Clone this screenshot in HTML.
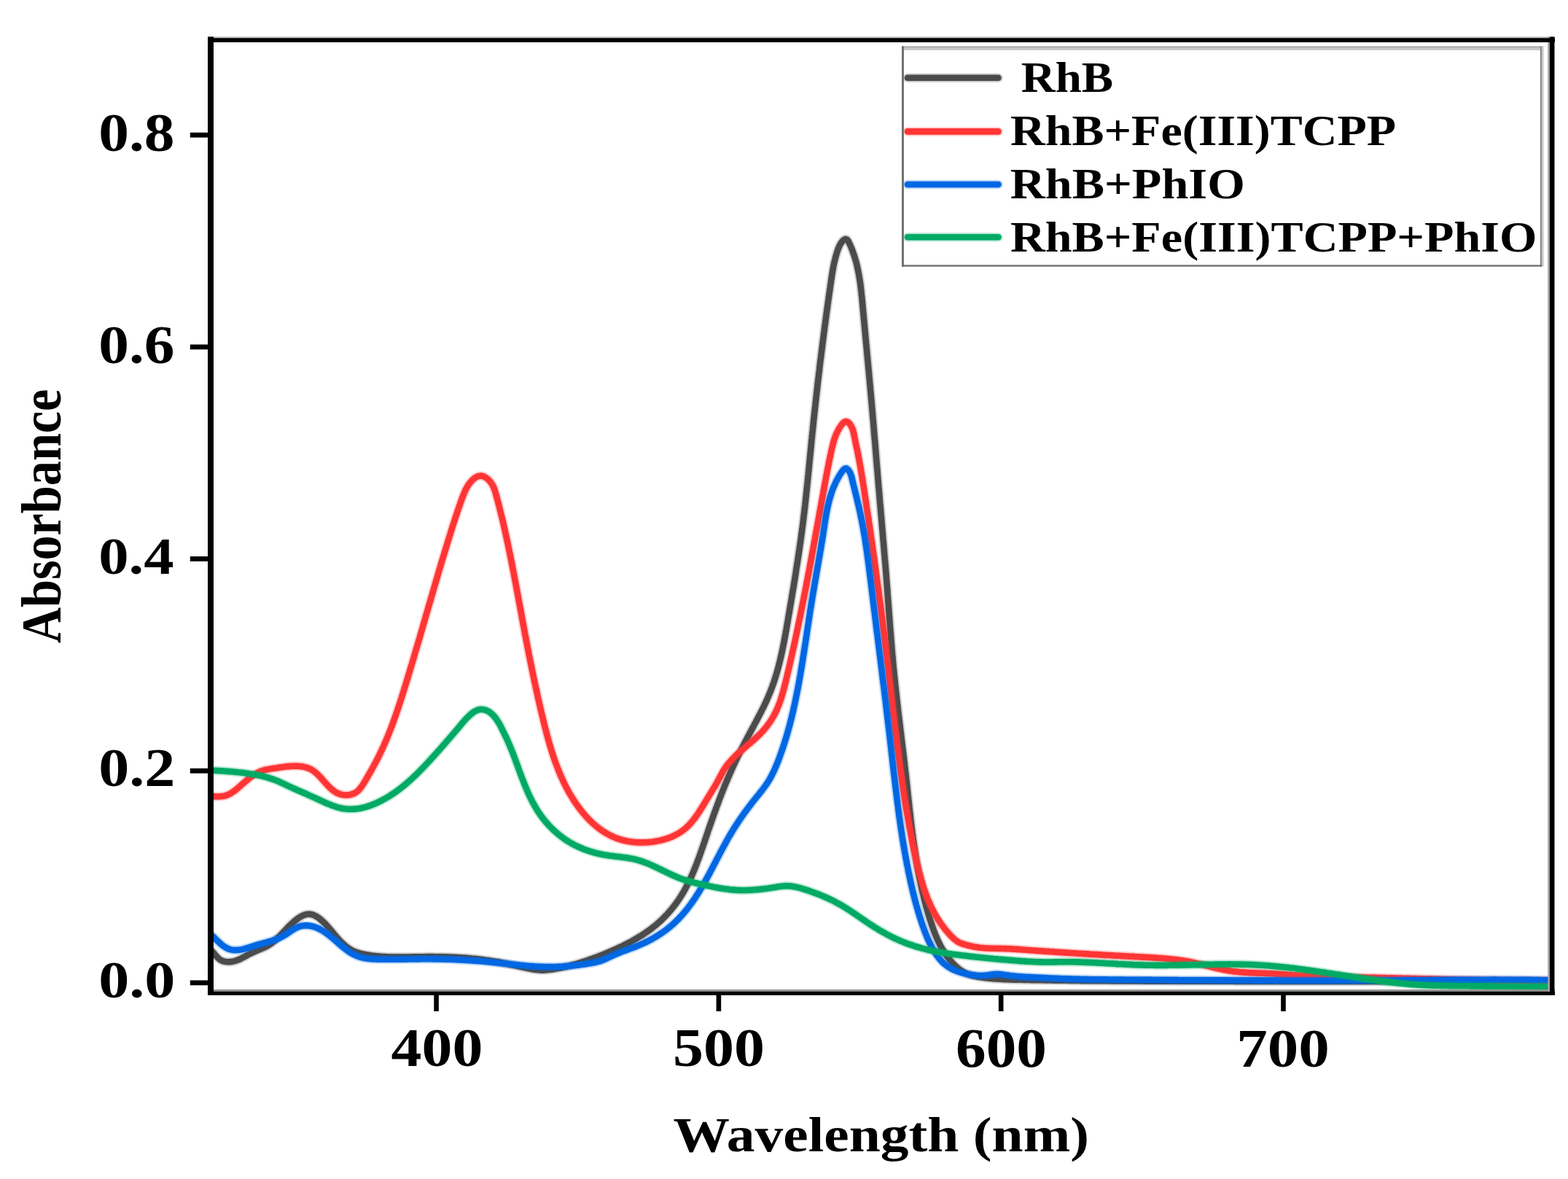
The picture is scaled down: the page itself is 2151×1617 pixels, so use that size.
<!DOCTYPE html>
<html><head><meta charset="utf-8"><title>Absorbance spectra</title>
<style>html,body{margin:0;padding:0;background:#fff;}svg{display:block;}</style>
</head><body>
<svg width="2151" height="1617" viewBox="0 0 2151 1617"><rect x="0" y="0" width="2151" height="1617" fill="#fff"/><defs><clipPath id="pc"><rect x="289" y="54" width="1839" height="1307"/></clipPath></defs><defs><path id="c_gray" d="M280.0,1300.0 282.5,1300.2 284.9,1300.8 287.2,1301.9 289.2,1303.3 291.1,1304.9 292.8,1306.8 294.5,1308.6 296.1,1310.6 297.7,1312.4 299.5,1314.2 301.4,1315.8 303.5,1317.1 305.8,1318.1 308.3,1318.7 310.7,1319.1 313.2,1319.2 315.7,1319.1 318.2,1318.9 320.7,1318.4 323.1,1317.7 325.4,1316.9 327.8,1316.0 330.0,1315.0 332.3,1313.8 334.5,1312.7 336.7,1311.5 338.9,1310.2 341.1,1309.0 343.3,1307.9 345.5,1306.7 347.8,1305.7 350.1,1304.7 352.4,1303.7 354.7,1302.8 357.0,1301.8 359.3,1300.9 361.6,1299.9 363.9,1298.8 366.1,1297.7 368.3,1296.4 370.4,1295.1 372.4,1293.7 374.4,1292.1 376.4,1290.6 378.2,1288.9 380.1,1287.2 381.9,1285.5 383.7,1283.7 385.4,1282.0 387.1,1280.1 388.9,1278.3 390.6,1276.5 392.3,1274.7 394.0,1272.9 395.8,1271.1 397.5,1269.3 399.3,1267.6 401.2,1265.9 403.0,1264.2 404.9,1262.6 406.9,1261.0 408.9,1259.5 411.0,1258.1 413.1,1256.9 415.4,1255.7 417.7,1254.8 420.1,1254.1 422.6,1253.8 425.1,1253.8 427.5,1254.2 429.9,1254.9 432.2,1255.9 434.4,1257.1 436.5,1258.5 438.5,1260.0 440.4,1261.6 442.3,1263.2 444.1,1265.0 445.9,1266.7 447.6,1268.6 449.3,1270.4 450.9,1272.3 452.6,1274.2 454.2,1276.1 455.8,1278.0 457.4,1279.9 459.0,1281.9 460.6,1283.8 462.2,1285.7 463.9,1287.5 465.6,1289.4 467.3,1291.2 469.1,1293.0 470.9,1294.7 472.7,1296.4 474.7,1298.0 476.6,1299.5 478.7,1300.9 480.8,1302.3 483.0,1303.5 485.2,1304.6 487.5,1305.5 489.9,1306.3 492.3,1307.1 494.7,1307.7 497.1,1308.3 499.6,1308.8 502.0,1309.3 504.5,1309.7 507.0,1310.1 509.5,1310.5 511.9,1310.8 514.4,1311.1 516.9,1311.4 519.4,1311.6 521.9,1311.8 524.4,1312.0 526.9,1312.1 529.4,1312.3 531.9,1312.4 534.4,1312.5 536.9,1312.5 539.4,1312.6 541.9,1312.6 544.4,1312.6 546.9,1312.6 549.4,1312.6 551.9,1312.6 554.4,1312.6 556.9,1312.5 559.4,1312.5 561.9,1312.5 564.4,1312.4 566.9,1312.4 569.4,1312.3 571.9,1312.3 574.4,1312.2 576.9,1312.2 579.4,1312.2 581.9,1312.2 584.4,1312.1 586.9,1312.1 589.4,1312.1 591.9,1312.1 594.4,1312.1 596.9,1312.2 599.4,1312.2 601.9,1312.2 604.4,1312.2 606.9,1312.3 609.4,1312.4 611.9,1312.4 614.4,1312.5 616.9,1312.6 619.4,1312.7 621.9,1312.8 624.4,1312.9 626.9,1313.0 629.4,1313.2 631.9,1313.3 634.4,1313.5 636.9,1313.6 639.4,1313.8 641.9,1314.0 644.4,1314.2 646.9,1314.5 649.3,1314.7 651.8,1314.9 654.3,1315.2 656.8,1315.5 659.3,1315.8 661.8,1316.1 664.3,1316.4 666.7,1316.8 669.2,1317.1 671.7,1317.5 674.2,1317.9 676.6,1318.3 679.1,1318.7 681.5,1319.1 684.0,1319.5 686.5,1320.0 688.9,1320.5 691.4,1321.0 693.8,1321.5 696.3,1322.0 698.7,1322.5 701.2,1323.0 703.6,1323.5 706.1,1324.1 708.5,1324.6 710.9,1325.2 713.4,1325.7 715.8,1326.3 718.3,1326.8 720.7,1327.4 723.1,1327.9 725.6,1328.4 728.1,1328.9 730.5,1329.3 733.0,1329.7 735.5,1330.0 738.0,1330.3 740.4,1330.5 742.9,1330.6 745.4,1330.6 747.9,1330.5 750.4,1330.3 752.9,1330.1 755.4,1329.8 757.9,1329.4 760.4,1329.0 762.8,1328.6 765.3,1328.1 767.7,1327.7 770.2,1327.2 772.6,1326.6 775.1,1326.1 777.5,1325.5 779.9,1324.9 782.4,1324.3 784.8,1323.6 787.2,1322.9 789.6,1322.3 792.0,1321.6 794.4,1320.8 796.8,1320.1 799.2,1319.3 801.5,1318.6 803.9,1317.8 806.3,1317.0 808.6,1316.1 811.0,1315.3 813.4,1314.5 815.7,1313.6 818.1,1312.8 820.4,1311.9 822.7,1311.0 825.1,1310.1 827.4,1309.2 829.7,1308.2 832.0,1307.3 834.3,1306.3 836.6,1305.3 838.9,1304.3 841.2,1303.3 843.5,1302.3 845.8,1301.3 848.0,1300.2 850.3,1299.1 852.6,1298.1 854.8,1297.0 857.0,1295.8 859.3,1294.7 861.5,1293.6 863.7,1292.4 865.9,1291.2 868.1,1290.0 870.3,1288.8 872.4,1287.5 874.6,1286.2 876.7,1284.9 878.9,1283.6 881.0,1282.3 883.1,1280.9 885.2,1279.5 887.2,1278.1 889.3,1276.7 891.3,1275.2 893.3,1273.7 895.3,1272.2 897.2,1270.7 899.2,1269.1 901.1,1267.5 903.0,1265.8 904.9,1264.2 906.7,1262.5 908.5,1260.8 910.3,1259.0 912.0,1257.2 913.8,1255.4 915.5,1253.6 917.2,1251.7 918.8,1249.8 920.4,1247.9 922.0,1246.0 923.6,1244.1 925.1,1242.1 926.6,1240.1 928.1,1238.1 929.5,1236.0 931.0,1234.0 932.3,1231.9 933.7,1229.8 935.0,1227.7 936.3,1225.5 937.6,1223.4 938.8,1221.2 940.1,1219.0 941.2,1216.8 942.4,1214.6 943.5,1212.4 944.7,1210.1 945.7,1207.9 946.8,1205.6 947.9,1203.3 948.9,1201.1 949.9,1198.8 950.9,1196.5 951.9,1194.2 952.8,1191.9 953.7,1189.5 954.7,1187.2 955.6,1184.9 956.5,1182.5 957.3,1180.2 958.2,1177.9 959.1,1175.5 959.9,1173.2 960.8,1170.8 961.6,1168.4 962.4,1166.1 963.2,1163.7 964.1,1161.4 964.9,1159.0 965.7,1156.6 966.5,1154.3 967.3,1151.9 968.1,1149.5 968.9,1147.1 969.7,1144.8 970.5,1142.4 971.3,1140.0 972.1,1137.7 972.9,1135.3 973.7,1132.9 974.6,1130.6 975.4,1128.2 976.2,1125.9 977.0,1123.5 977.9,1121.1 978.7,1118.8 979.5,1116.4 980.4,1114.1 981.2,1111.7 982.1,1109.4 982.9,1107.0 983.8,1104.7 984.7,1102.3 985.6,1100.0 986.4,1097.6 987.3,1095.3 988.2,1093.0 989.1,1090.6 990.0,1088.3 990.9,1086.0 991.8,1083.6 992.8,1081.3 993.7,1079.0 994.6,1076.7 995.6,1074.4 996.6,1072.1 997.5,1069.8 998.5,1067.4 999.5,1065.1 1000.5,1062.9 1001.5,1060.6 1002.5,1058.3 1003.5,1056.0 1004.5,1053.7 1005.6,1051.4 1006.6,1049.2 1007.7,1046.9 1008.7,1044.6 1009.8,1042.4 1010.9,1040.1 1012.0,1037.9 1013.1,1035.6 1014.2,1033.4 1015.3,1031.1 1016.4,1028.9 1017.6,1026.7 1018.7,1024.5 1019.8,1022.2 1021.0,1020.0 1022.1,1017.8 1023.3,1015.6 1024.5,1013.4 1025.6,1011.1 1026.8,1008.9 1028.0,1006.7 1029.1,1004.5 1030.3,1002.3 1031.5,1000.1 1032.7,997.9 1033.9,995.7 1035.0,993.5 1036.2,991.3 1037.4,989.1 1038.6,986.9 1039.7,984.6 1040.9,982.4 1042.0,980.2 1043.2,978.0 1044.3,975.8 1045.4,973.5 1046.6,971.3 1047.7,969.0 1048.8,966.8 1049.8,964.5 1050.9,962.3 1051.9,960.0 1052.9,957.7 1053.9,955.4 1054.9,953.1 1055.9,950.8 1056.8,948.5 1057.7,946.1 1058.6,943.8 1059.5,941.5 1060.3,939.1 1061.2,936.7 1062.0,934.4 1062.7,932.0 1063.5,929.6 1064.2,927.2 1065.0,924.8 1065.7,922.4 1066.4,920.0 1067.0,917.6 1067.7,915.2 1068.3,912.8 1068.9,910.4 1069.5,907.9 1070.1,905.5 1070.7,903.1 1071.3,900.6 1071.8,898.2 1072.4,895.8 1072.9,893.3 1073.4,890.9 1073.9,888.4 1074.4,886.0 1074.9,883.5 1075.4,881.1 1075.9,878.6 1076.3,876.1 1076.8,873.7 1077.2,871.2 1077.7,868.8 1078.1,866.3 1078.6,863.8 1079.0,861.4 1079.4,858.9 1079.8,856.4 1080.3,854.0 1080.7,851.5 1081.1,849.1 1081.5,846.6 1081.9,844.1 1082.4,841.7 1082.8,839.2 1083.2,836.7 1083.6,834.3 1084.0,831.8 1084.4,829.3 1084.9,826.9 1085.3,824.4 1085.7,821.9 1086.1,819.5 1086.5,817.0 1086.9,814.5 1087.3,812.1 1087.7,809.6 1088.2,807.1 1088.6,804.7 1089.0,802.2 1089.4,799.7 1089.8,797.2 1090.2,794.8 1090.6,792.3 1091.0,789.8 1091.4,787.4 1091.8,784.9 1092.1,782.4 1092.5,780.0 1092.9,777.5 1093.3,775.0 1093.7,772.5 1094.1,770.1 1094.4,767.6 1094.8,765.1 1095.2,762.7 1095.6,760.2 1095.9,757.7 1096.3,755.2 1096.7,752.8 1097.0,750.3 1097.4,747.8 1097.7,745.3 1098.1,742.9 1098.4,740.4 1098.8,737.9 1099.1,735.4 1099.4,732.9 1099.8,730.5 1100.1,728.0 1100.4,725.5 1100.8,723.0 1101.1,720.5 1101.4,718.1 1101.7,715.6 1102.0,713.1 1102.3,710.6 1102.6,708.1 1102.9,705.7 1103.2,703.2 1103.5,700.7 1103.8,698.2 1104.1,695.7 1104.4,693.2 1104.6,690.7 1104.9,688.3 1105.2,685.8 1105.4,683.3 1105.7,680.8 1106.0,678.3 1106.2,675.8 1106.5,673.3 1106.8,670.8 1107.0,668.4 1107.3,665.9 1107.5,663.4 1107.8,660.9 1108.0,658.4 1108.3,655.9 1108.5,653.4 1108.8,650.9 1109.0,648.5 1109.3,646.0 1109.5,643.5 1109.8,641.0 1110.0,638.5 1110.3,636.0 1110.5,633.5 1110.7,631.0 1111.0,628.5 1111.2,626.0 1111.5,623.6 1111.7,621.1 1112.0,618.6 1112.2,616.1 1112.5,613.6 1112.7,611.1 1112.9,608.6 1113.2,606.1 1113.4,603.6 1113.7,601.2 1113.9,598.7 1114.2,596.2 1114.4,593.7 1114.7,591.2 1115.0,588.7 1115.2,586.2 1115.5,583.7 1115.7,581.3 1116.0,578.8 1116.2,576.3 1116.5,573.8 1116.8,571.3 1117.0,568.8 1117.3,566.3 1117.6,563.8 1117.8,561.4 1118.1,558.9 1118.4,556.4 1118.6,553.9 1118.9,551.4 1119.2,548.9 1119.5,546.4 1119.7,544.0 1120.0,541.5 1120.3,539.0 1120.6,536.5 1120.9,534.0 1121.2,531.5 1121.4,529.0 1121.7,526.6 1122.0,524.1 1122.3,521.6 1122.6,519.1 1122.9,516.6 1123.2,514.1 1123.5,511.6 1123.8,509.2 1124.1,506.7 1124.3,504.2 1124.6,501.7 1124.9,499.2 1125.2,496.7 1125.5,494.3 1125.9,491.8 1126.2,489.3 1126.5,486.8 1126.8,484.3 1127.1,481.9 1127.4,479.4 1127.7,476.9 1128.0,474.4 1128.3,471.9 1128.6,469.4 1129.0,467.0 1129.3,464.5 1129.6,462.0 1129.9,459.5 1130.2,457.0 1130.6,454.6 1130.9,452.1 1131.2,449.6 1131.5,447.1 1131.9,444.6 1132.2,442.2 1132.5,439.7 1132.8,437.2 1133.2,434.7 1133.5,432.2 1133.8,429.8 1134.2,427.3 1134.5,424.8 1134.9,422.3 1135.2,419.9 1135.5,417.4 1135.9,414.9 1136.2,412.4 1136.6,409.9 1136.9,407.5 1137.3,405.0 1137.6,402.5 1138.0,400.0 1138.3,397.6 1138.7,395.1 1139.0,392.6 1139.4,390.1 1139.8,387.7 1140.1,385.2 1140.5,382.7 1140.8,380.2 1141.2,377.8 1141.6,375.3 1142.0,372.8 1142.4,370.4 1142.9,367.9 1143.3,365.4 1143.8,363.0 1144.3,360.5 1144.9,358.1 1145.5,355.7 1146.1,353.2 1146.8,350.8 1147.5,348.4 1148.2,346.0 1149.0,343.7 1149.8,341.3 1150.8,339.0 1151.8,336.7 1153.0,334.5 1154.4,332.4 1155.9,330.5 1157.8,328.8 1160.0,327.8 1162.2,328.8 1163.7,330.8 1164.8,333.1 1165.9,335.3 1166.9,337.6 1167.9,339.9 1168.8,342.2 1169.7,344.6 1170.5,346.9 1171.4,349.3 1172.1,351.7 1172.9,354.1 1173.6,356.5 1174.3,358.9 1174.9,361.3 1175.5,363.7 1176.1,366.1 1176.6,368.6 1177.1,371.0 1177.6,373.5 1178.1,375.9 1178.5,378.4 1178.9,380.9 1179.3,383.3 1179.7,385.8 1180.1,388.3 1180.4,390.8 1180.7,393.2 1181.0,395.7 1181.3,398.2 1181.6,400.7 1181.8,403.2 1182.1,405.7 1182.4,408.2 1182.6,410.7 1182.8,413.1 1183.1,415.6 1183.3,418.1 1183.5,420.6 1183.7,423.1 1184.0,425.6 1184.2,428.1 1184.4,430.6 1184.7,433.1 1184.9,435.6 1185.1,438.1 1185.4,440.5 1185.6,443.0 1185.8,445.5 1186.1,448.0 1186.3,450.5 1186.5,453.0 1186.7,455.5 1187.0,458.0 1187.2,460.5 1187.4,463.0 1187.7,465.4 1187.9,467.9 1188.1,470.4 1188.4,472.9 1188.6,475.4 1188.8,477.9 1189.1,480.4 1189.3,482.9 1189.5,485.4 1189.8,487.9 1190.0,490.3 1190.2,492.8 1190.5,495.3 1190.7,497.8 1190.9,500.3 1191.2,502.8 1191.4,505.3 1191.6,507.8 1191.9,510.3 1192.1,512.8 1192.3,515.3 1192.5,517.7 1192.8,520.2 1193.0,522.7 1193.2,525.2 1193.5,527.7 1193.7,530.2 1193.9,532.7 1194.1,535.2 1194.4,537.7 1194.6,540.2 1194.8,542.7 1195.0,545.1 1195.2,547.6 1195.5,550.1 1195.7,552.6 1195.9,555.1 1196.1,557.6 1196.3,560.1 1196.6,562.6 1196.8,565.1 1197.0,567.6 1197.2,570.1 1197.4,572.6 1197.6,575.0 1197.9,577.5 1198.1,580.0 1198.3,582.5 1198.5,585.0 1198.7,587.5 1198.9,590.0 1199.1,592.5 1199.3,595.0 1199.5,597.5 1199.7,600.0 1199.9,602.5 1200.2,605.0 1200.4,607.4 1200.6,609.9 1200.8,612.4 1201.0,614.9 1201.2,617.4 1201.4,619.9 1201.6,622.4 1201.8,624.9 1202.0,627.4 1202.2,629.9 1202.4,632.4 1202.6,634.9 1202.8,637.4 1203.0,639.8 1203.3,642.3 1203.5,644.8 1203.7,647.3 1203.9,649.8 1204.1,652.3 1204.3,654.8 1204.5,657.3 1204.7,659.8 1204.9,662.3 1205.1,664.8 1205.3,667.3 1205.5,669.8 1205.8,672.3 1206.0,674.7 1206.2,677.2 1206.4,679.7 1206.6,682.2 1206.8,684.7 1207.0,687.2 1207.2,689.7 1207.5,692.2 1207.7,694.7 1207.9,697.2 1208.1,699.7 1208.3,702.2 1208.5,704.6 1208.7,707.1 1209.0,709.6 1209.2,712.1 1209.4,714.6 1209.6,717.1 1209.8,719.6 1210.0,722.1 1210.2,724.6 1210.5,727.1 1210.7,729.6 1210.9,732.1 1211.1,734.6 1211.3,737.0 1211.5,739.5 1211.7,742.0 1212.0,744.5 1212.2,747.0 1212.4,749.5 1212.6,752.0 1212.8,754.5 1213.0,757.0 1213.2,759.5 1213.4,762.0 1213.6,764.5 1213.8,766.9 1214.1,769.4 1214.3,771.9 1214.5,774.4 1214.7,776.9 1214.9,779.4 1215.1,781.9 1215.3,784.4 1215.5,786.9 1215.7,789.4 1215.9,791.9 1216.1,794.4 1216.3,796.9 1216.5,799.4 1216.7,801.9 1216.9,804.3 1217.1,806.8 1217.3,809.3 1217.4,811.8 1217.6,814.3 1217.8,816.8 1218.0,819.3 1218.2,821.8 1218.4,824.3 1218.6,826.8 1218.8,829.3 1219.0,831.8 1219.1,834.3 1219.3,836.8 1219.5,839.3 1219.7,841.8 1219.9,844.2 1220.1,846.7 1220.3,849.2 1220.4,851.7 1220.6,854.2 1220.8,856.7 1221.0,859.2 1221.2,861.7 1221.4,864.2 1221.6,866.7 1221.8,869.2 1222.0,871.7 1222.2,874.2 1222.4,876.7 1222.6,879.2 1222.8,881.7 1223.0,884.1 1223.2,886.6 1223.4,889.1 1223.6,891.6 1223.8,894.1 1224.0,896.6 1224.3,899.1 1224.5,901.6 1224.7,904.1 1224.9,906.6 1225.1,909.1 1225.4,911.6 1225.6,914.0 1225.8,916.5 1226.1,919.0 1226.3,921.5 1226.6,924.0 1226.8,926.5 1227.1,929.0 1227.3,931.5 1227.6,934.0 1227.9,936.4 1228.1,938.9 1228.4,941.4 1228.7,943.9 1228.9,946.4 1229.2,948.9 1229.5,951.4 1229.8,953.8 1230.0,956.3 1230.3,958.8 1230.6,961.3 1230.9,963.8 1231.2,966.3 1231.5,968.8 1231.8,971.2 1232.0,973.7 1232.3,976.2 1232.6,978.7 1232.9,981.2 1233.2,983.7 1233.5,986.1 1233.8,988.6 1234.1,991.1 1234.4,993.6 1234.7,996.1 1235.0,998.6 1235.3,1001.0 1235.6,1003.5 1235.9,1006.0 1236.2,1008.5 1236.5,1011.0 1236.8,1013.5 1237.1,1015.9 1237.4,1018.4 1237.7,1020.9 1238.0,1023.4 1238.3,1025.9 1238.6,1028.4 1238.9,1030.8 1239.2,1033.3 1239.5,1035.8 1239.8,1038.3 1240.1,1040.8 1240.4,1043.3 1240.7,1045.7 1241.0,1048.2 1241.2,1050.7 1241.5,1053.2 1241.8,1055.7 1242.1,1058.2 1242.4,1060.7 1242.7,1063.1 1242.9,1065.6 1243.2,1068.1 1243.5,1070.6 1243.7,1073.1 1244.0,1075.6 1244.3,1078.1 1244.6,1080.5 1244.8,1083.0 1245.1,1085.5 1245.4,1088.0 1245.6,1090.5 1245.9,1093.0 1246.2,1095.5 1246.4,1098.0 1246.7,1100.4 1247.0,1102.9 1247.3,1105.4 1247.5,1107.9 1247.8,1110.4 1248.1,1112.9 1248.4,1115.4 1248.7,1117.8 1248.9,1120.3 1249.2,1122.8 1249.5,1125.3 1249.8,1127.8 1250.1,1130.3 1250.4,1132.7 1250.7,1135.2 1251.0,1137.7 1251.3,1140.2 1251.6,1142.7 1252.0,1145.2 1252.3,1147.6 1252.6,1150.1 1253.0,1152.6 1253.3,1155.1 1253.6,1157.5 1254.0,1160.0 1254.4,1162.5 1254.7,1165.0 1255.1,1167.4 1255.5,1169.9 1255.8,1172.4 1256.2,1174.9 1256.6,1177.3 1257.0,1179.8 1257.4,1182.3 1257.9,1184.7 1258.3,1187.2 1258.7,1189.7 1259.2,1192.1 1259.6,1194.6 1260.1,1197.0 1260.5,1199.5 1261.0,1202.0 1261.5,1204.4 1262.0,1206.9 1262.5,1209.3 1263.0,1211.8 1263.5,1214.2 1264.1,1216.6 1264.6,1219.1 1265.1,1221.5 1265.7,1224.0 1266.3,1226.4 1266.9,1228.8 1267.5,1231.3 1268.1,1233.7 1268.7,1236.1 1269.3,1238.5 1270.0,1240.9 1270.6,1243.4 1271.3,1245.8 1272.0,1248.2 1272.7,1250.6 1273.4,1253.0 1274.1,1255.4 1274.8,1257.8 1275.6,1260.2 1276.3,1262.5 1277.1,1264.9 1277.9,1267.3 1278.7,1269.7 1279.5,1272.0 1280.3,1274.4 1281.2,1276.7 1282.1,1279.1 1283.0,1281.4 1284.0,1283.7 1284.9,1286.0 1285.9,1288.3 1287.0,1290.6 1288.0,1292.8 1289.1,1295.1 1290.3,1297.3 1291.5,1299.5 1292.7,1301.7 1294.0,1303.8 1295.3,1306.0 1296.7,1308.1 1298.1,1310.1 1299.6,1312.1 1301.1,1314.1 1302.6,1316.1 1304.2,1318.0 1305.9,1319.9 1307.6,1321.7 1309.3,1323.5 1311.2,1325.2 1313.0,1326.9 1315.0,1328.5 1316.9,1330.0 1319.0,1331.4 1321.1,1332.8 1323.3,1334.0 1325.5,1335.1 1327.8,1336.1 1330.2,1336.9 1332.6,1337.7 1335.0,1338.3 1337.4,1338.9 1339.9,1339.4 1342.3,1339.8 1344.8,1340.2 1347.3,1340.6 1349.8,1340.9 1352.2,1341.2 1354.7,1341.5 1357.2,1341.7 1359.7,1341.9 1362.2,1342.2 1364.7,1342.4 1367.2,1342.5 1369.7,1342.7 1372.2,1342.8 1374.7,1343.0 1377.2,1343.1 1379.7,1343.2 1382.2,1343.3 1384.7,1343.4 1387.2,1343.5 1389.7,1343.6 1392.2,1343.6 1394.7,1343.7 1397.2,1343.7 1399.7,1343.8 1402.2,1343.8 1404.7,1343.9 1407.2,1343.9 1409.7,1344.0 1412.2,1344.0 1414.7,1344.1 1417.2,1344.1 1419.7,1344.2 1422.2,1344.2 1424.7,1344.3 1427.2,1344.3 1429.7,1344.3 1432.2,1344.4 1434.7,1344.4 1437.2,1344.5 1439.7,1344.5 1442.2,1344.5 1444.7,1344.6 1447.2,1344.6 1449.7,1344.6 1452.2,1344.7 1454.7,1344.7 1457.2,1344.7 1459.7,1344.8 1462.2,1344.8 1464.7,1344.8 1467.2,1344.9 1469.7,1344.9 1472.2,1344.9 1474.7,1345.0 1477.2,1345.0 1479.7,1345.0 1482.2,1345.0 1484.7,1345.1 1487.2,1345.1 1489.7,1345.1 1492.2,1345.1 1494.7,1345.1 1497.2,1345.2 1499.7,1345.2 1502.2,1345.2 1504.7,1345.2 1507.2,1345.2 1509.7,1345.3 1512.2,1345.3 1514.7,1345.3 1517.2,1345.3 1519.7,1345.3 1522.2,1345.3 1524.7,1345.4 1527.2,1345.4 1529.7,1345.4 1532.2,1345.4 1534.7,1345.4 1537.2,1345.4 1539.7,1345.4 1542.2,1345.4 1544.7,1345.5 1547.2,1345.5 1549.7,1345.5 1552.2,1345.5 1554.7,1345.5 1557.2,1345.5 1559.7,1345.5 1562.2,1345.5 1564.7,1345.5 1567.2,1345.5 1569.7,1345.6 1572.2,1345.6 1574.7,1345.6 1577.2,1345.6 1579.7,1345.6 1582.2,1345.6 1584.7,1345.6 1587.2,1345.6 1589.7,1345.6 1592.2,1345.6 1594.8,1345.6 1597.3,1345.6 1599.8,1345.6 1602.3,1345.7 1604.8,1345.7 1607.3,1345.7 1609.8,1345.7 1612.3,1345.7 1614.8,1345.7 1617.3,1345.7 1619.8,1345.7 1622.3,1345.7 1624.8,1345.7 1627.3,1345.7 1629.8,1345.7 1632.3,1345.7 1634.8,1345.7 1637.3,1345.7 1639.8,1345.7 1642.3,1345.7 1644.8,1345.8 1647.3,1345.8 1649.8,1345.8 1652.3,1345.8 1654.8,1345.8 1657.3,1345.8 1659.8,1345.8 1662.3,1345.8 1664.8,1345.8 1667.3,1345.8 1669.8,1345.8 1672.3,1345.8 1674.8,1345.8 1677.3,1345.8 1679.8,1345.8 1682.3,1345.8 1684.8,1345.8 1687.3,1345.8 1689.8,1345.8 1692.3,1345.8 1694.8,1345.9 1697.3,1345.9 1699.8,1345.9 1702.3,1345.9 1704.8,1345.9 1707.3,1345.9 1709.8,1345.9 1712.3,1345.9 1714.8,1345.9 1717.3,1345.9 1719.8,1345.9 1722.3,1345.9 1724.8,1345.9 1727.3,1345.9 1729.8,1345.9 1732.3,1345.9 1734.8,1345.9 1737.3,1345.9 1739.8,1345.9 1742.3,1345.9 1744.8,1345.9 1747.3,1345.9 1749.8,1345.9 1752.3,1345.9 1754.8,1345.9 1757.3,1345.9 1759.8,1345.9 1762.3,1345.9 1764.8,1345.9 1767.3,1345.9 1769.8,1345.9 1772.3,1346.0 1774.8,1346.0 1777.3,1346.0 1779.8,1346.0 1782.3,1346.0 1784.8,1346.0 1787.3,1346.0 1789.8,1346.0 1792.3,1346.0 1794.8,1346.0 1797.3,1346.0 1799.8,1346.0 1802.3,1346.0 1804.8,1346.0 1807.3,1346.0 1809.8,1346.0 1812.4,1346.0 1814.9,1346.0 1817.4,1346.0 1819.9,1346.0 1822.4,1346.0 1824.9,1346.0 1827.4,1346.0 1829.9,1346.0 1832.4,1346.0 1834.9,1346.0 1837.4,1346.0 1839.9,1346.0 1842.4,1346.0 1844.9,1346.0 1847.4,1346.0 1849.9,1346.0 1852.4,1346.0 1854.9,1346.0 1857.4,1346.0 1859.9,1346.0 1862.4,1346.0 1864.9,1346.0 1867.4,1346.0 1869.9,1346.0 1872.4,1346.0 1874.9,1346.0 1877.4,1346.0 1879.9,1346.0 1882.4,1346.0 1884.9,1346.0 1887.4,1346.0 1889.9,1346.0 1892.4,1346.0 1894.9,1346.0 1897.4,1346.0 1899.9,1346.0 1902.4,1346.0 1904.9,1346.0 1907.4,1346.0 1909.9,1346.0 1912.4,1346.0 1914.9,1346.0 1917.4,1346.0 1919.9,1346.0 1922.4,1346.0 1924.9,1346.0 1927.4,1346.0 1929.9,1346.0 1932.4,1346.0 1934.9,1346.0 1937.4,1346.0 1939.9,1346.0 1942.4,1346.0 1944.9,1346.0 1947.4,1346.0 1949.9,1346.0 1952.4,1346.0 1954.9,1346.0 1957.4,1346.0 1959.9,1346.0 1962.4,1346.0 1964.9,1346.0 1967.4,1346.0 1969.9,1346.0 1972.4,1346.0 1974.9,1346.0 1977.4,1346.0 1979.9,1346.0 1982.4,1346.0 1984.9,1346.0 1987.4,1346.0 1989.9,1346.0 1992.4,1346.0 1994.9,1346.0 1997.4,1346.0 1999.9,1346.0 2002.4,1346.0 2004.9,1346.0 2007.4,1346.0 2009.9,1346.0 2012.4,1346.0 2014.9,1346.0 2017.4,1346.0 2019.9,1346.0 2022.4,1346.0 2024.9,1346.0 2027.4,1346.0 2030.0,1346.0 2032.5,1346.0 2035.0,1346.0 2037.5,1346.0 2040.0,1346.0 2042.5,1346.0 2045.0,1346.0 2047.5,1346.0 2050.0,1346.0 2052.5,1346.0 2055.0,1346.0 2057.5,1346.0 2060.0,1346.0 2062.5,1346.0 2065.0,1346.0 2067.5,1346.0 2070.0,1346.0 2072.5,1346.0 2075.0,1346.0 2077.5,1346.0 2080.0,1346.0 2082.5,1346.0 2085.0,1346.0 2087.5,1346.0 2090.0,1346.0 2092.5,1346.0 2095.0,1346.0 2097.5,1346.0 2100.0,1346.0 2102.5,1346.0 2105.0,1346.0 2107.5,1346.0 2110.0,1346.0 2112.5,1346.0 2115.0,1346.0 2117.5,1346.0 2120.0,1346.0 2122.5,1346.0 2125.0,1346.0 2127.5,1346.0 2130.0,1346.0 2132.5,1346.0 2135.0,1346.0 2137.5,1346.0 2140.0,1346.0"/><path id="c_red" d="M280.0,1092.0 282.5,1091.9 285.0,1092.0 287.5,1092.1 290.0,1092.2 292.5,1092.3 295.0,1092.4 297.5,1092.5 300.0,1092.5 302.5,1092.3 305.0,1092.1 307.4,1091.7 309.9,1091.0 312.2,1090.2 314.5,1089.1 316.7,1088.0 318.8,1086.6 320.9,1085.2 322.9,1083.7 324.8,1082.1 326.7,1080.5 328.6,1078.9 330.4,1077.2 332.3,1075.5 334.2,1073.8 336.1,1072.2 338.0,1070.6 339.9,1069.0 341.8,1067.4 343.8,1065.9 345.9,1064.4 347.9,1063.0 350.0,1061.7 352.2,1060.5 354.4,1059.3 356.7,1058.3 359.0,1057.3 361.4,1056.6 363.8,1055.9 366.2,1055.3 368.7,1054.9 371.2,1054.4 373.6,1054.1 376.1,1053.7 378.6,1053.4 381.1,1053.0 383.5,1052.6 386.0,1052.3 388.5,1051.9 391.0,1051.6 393.5,1051.3 395.9,1051.1 398.4,1050.9 400.9,1050.7 403.4,1050.7 405.9,1050.6 408.4,1050.7 410.9,1050.9 413.4,1051.2 415.9,1051.6 418.3,1052.1 420.7,1052.8 423.1,1053.6 425.4,1054.6 427.6,1055.8 429.7,1057.1 431.7,1058.6 433.6,1060.2 435.5,1061.9 437.2,1063.7 439.0,1065.5 440.7,1067.3 442.3,1069.2 444.0,1071.1 445.6,1073.0 447.3,1074.8 449.0,1076.7 450.7,1078.5 452.5,1080.2 454.3,1081.9 456.2,1083.5 458.2,1085.0 460.3,1086.4 462.5,1087.6 464.8,1088.6 467.2,1089.4 469.6,1090.0 472.1,1090.3 474.6,1090.5 477.1,1090.4 479.6,1090.1 482.0,1089.5 484.4,1088.7 486.7,1087.7 488.8,1086.4 490.8,1084.8 492.5,1083.1 494.2,1081.2 495.7,1079.2 497.1,1077.2 498.5,1075.1 499.8,1072.9 501.1,1070.8 502.4,1068.6 503.6,1066.5 504.9,1064.3 506.1,1062.1 507.4,1060.0 508.6,1057.8 509.8,1055.6 511.0,1053.4 512.2,1051.2 513.4,1049.0 514.6,1046.8 515.8,1044.6 516.9,1042.4 518.1,1040.2 519.2,1037.9 520.3,1035.7 521.4,1033.5 522.5,1031.2 523.6,1028.9 524.6,1026.7 525.7,1024.4 526.7,1022.1 527.7,1019.8 528.7,1017.5 529.7,1015.2 530.7,1012.9 531.6,1010.6 532.6,1008.3 533.5,1006.0 534.4,1003.7 535.3,1001.3 536.2,999.0 537.1,996.7 538.0,994.3 538.9,992.0 539.7,989.6 540.6,987.3 541.4,984.9 542.3,982.6 543.1,980.2 543.9,977.9 544.7,975.5 545.5,973.1 546.3,970.8 547.1,968.4 547.9,966.0 548.7,963.6 549.4,961.2 550.2,958.9 551.0,956.5 551.7,954.1 552.5,951.7 553.2,949.3 554.0,946.9 554.7,944.5 555.4,942.2 556.2,939.8 556.9,937.4 557.6,935.0 558.4,932.6 559.1,930.2 559.8,927.8 560.5,925.4 561.3,923.0 562.0,920.6 562.7,918.2 563.4,915.8 564.1,913.4 564.9,911.0 565.6,908.6 566.3,906.2 567.0,903.9 567.7,901.5 568.4,899.1 569.1,896.7 569.8,894.3 570.5,891.9 571.2,889.5 571.9,887.1 572.7,884.7 573.4,882.3 574.1,879.9 574.8,877.5 575.5,875.1 576.2,872.7 576.9,870.3 577.6,867.9 578.3,865.5 579.0,863.1 579.7,860.7 580.4,858.2 581.0,855.8 581.7,853.4 582.4,851.0 583.1,848.6 583.8,846.2 584.5,843.8 585.2,841.4 585.9,839.0 586.6,836.6 587.3,834.2 588.0,831.8 588.7,829.4 589.4,827.0 590.1,824.6 590.8,822.2 591.5,819.8 592.2,817.4 592.9,815.0 593.6,812.6 594.3,810.2 595.0,807.8 595.7,805.4 596.4,803.0 597.1,800.6 597.8,798.2 598.5,795.8 599.2,793.4 599.9,791.0 600.6,788.6 601.3,786.2 602.0,783.8 602.7,781.4 603.5,779.0 604.2,776.6 604.9,774.2 605.6,771.8 606.3,769.4 607.0,767.0 607.8,764.6 608.5,762.2 609.2,759.9 609.9,757.5 610.6,755.1 611.4,752.7 612.1,750.3 612.8,747.9 613.6,745.5 614.3,743.1 615.0,740.7 615.8,738.3 616.5,735.9 617.3,733.6 618.0,731.2 618.7,728.8 619.5,726.4 620.2,724.0 621.0,721.6 621.8,719.2 622.5,716.9 623.3,714.5 624.1,712.1 624.8,709.7 625.6,707.3 626.4,705.0 627.2,702.6 628.0,700.2 628.8,697.9 629.6,695.5 630.5,693.1 631.3,690.8 632.1,688.4 633.0,686.1 633.8,683.7 634.7,681.4 635.6,679.0 636.5,676.7 637.5,674.4 638.5,672.1 639.7,669.9 640.9,667.7 642.2,665.6 643.6,663.5 645.1,661.6 646.8,659.7 648.6,657.9 650.5,656.3 652.5,654.8 654.7,653.7 657.1,652.9 659.5,652.6 662.0,653.0 664.4,653.9 666.5,655.1 668.5,656.6 670.4,658.3 672.1,660.1 673.6,662.1 675.0,664.2 676.2,666.3 677.3,668.6 678.2,670.9 679.0,673.3 679.7,675.7 680.4,678.1 681.0,680.5 681.7,682.9 682.4,685.3 683.0,687.8 683.6,690.2 684.3,692.6 684.9,695.0 685.5,697.4 686.1,699.9 686.7,702.3 687.3,704.7 687.9,707.2 688.5,709.6 689.1,712.0 689.7,714.5 690.2,716.9 690.8,719.3 691.3,721.8 691.9,724.2 692.4,726.6 693.0,729.1 693.5,731.5 694.1,734.0 694.6,736.4 695.1,738.9 695.6,741.3 696.2,743.7 696.7,746.2 697.2,748.6 697.7,751.1 698.2,753.5 698.7,756.0 699.2,758.4 699.7,760.9 700.2,763.3 700.7,765.8 701.2,768.2 701.7,770.7 702.2,773.2 702.6,775.6 703.1,778.1 703.6,780.5 704.1,783.0 704.6,785.4 705.0,787.9 705.5,790.3 706.0,792.8 706.4,795.3 706.9,797.7 707.4,800.2 707.8,802.6 708.3,805.1 708.7,807.5 709.2,810.0 709.7,812.5 710.1,814.9 710.6,817.4 711.0,819.8 711.5,822.3 711.9,824.8 712.4,827.2 712.8,829.7 713.3,832.1 713.7,834.6 714.2,837.0 714.7,839.5 715.1,842.0 715.6,844.4 716.0,846.9 716.5,849.3 716.9,851.8 717.4,854.3 717.8,856.7 718.3,859.2 718.8,861.6 719.2,864.1 719.7,866.6 720.1,869.0 720.6,871.5 721.1,873.9 721.5,876.4 722.0,878.8 722.5,881.3 723.0,883.8 723.4,886.2 723.9,888.7 724.4,891.1 724.9,893.6 725.3,896.0 725.8,898.5 726.3,900.9 726.8,903.4 727.3,905.8 727.8,908.3 728.3,910.7 728.8,913.2 729.3,915.6 729.8,918.1 730.3,920.5 730.8,923.0 731.3,925.4 731.8,927.9 732.3,930.3 732.8,932.8 733.3,935.2 733.9,937.7 734.4,940.1 734.9,942.6 735.5,945.0 736.0,947.5 736.5,949.9 737.1,952.3 737.6,954.8 738.1,957.2 738.7,959.7 739.2,962.1 739.8,964.5 740.4,967.0 740.9,969.4 741.5,971.9 742.1,974.3 742.6,976.7 743.2,979.2 743.8,981.6 744.4,984.0 745.0,986.5 745.5,988.9 746.1,991.3 746.7,993.7 747.3,996.2 748.0,998.6 748.6,1001.0 749.2,1003.4 749.8,1005.9 750.5,1008.3 751.1,1010.7 751.8,1013.1 752.5,1015.5 753.1,1017.9 753.8,1020.3 754.5,1022.7 755.3,1025.1 756.0,1027.5 756.7,1029.9 757.5,1032.3 758.2,1034.7 759.0,1037.0 759.8,1039.4 760.6,1041.8 761.5,1044.1 762.3,1046.5 763.2,1048.8 764.1,1051.2 765.0,1053.5 765.9,1055.8 766.8,1058.1 767.8,1060.5 768.7,1062.8 769.7,1065.1 770.8,1067.3 771.8,1069.6 772.9,1071.9 773.9,1074.1 775.1,1076.4 776.2,1078.6 777.3,1080.8 778.5,1083.0 779.7,1085.2 780.9,1087.4 782.2,1089.6 783.5,1091.7 784.8,1093.9 786.1,1096.0 787.5,1098.1 788.8,1100.2 790.2,1102.2 791.7,1104.3 793.1,1106.3 794.6,1108.3 796.1,1110.3 797.7,1112.3 799.2,1114.2 800.8,1116.1 802.5,1118.0 804.1,1119.9 805.8,1121.8 807.6,1123.6 809.3,1125.3 811.1,1127.1 812.9,1128.8 814.8,1130.5 816.7,1132.1 818.6,1133.7 820.6,1135.3 822.5,1136.8 824.6,1138.2 826.6,1139.7 828.7,1141.0 830.9,1142.3 833.0,1143.6 835.2,1144.8 837.4,1146.0 839.7,1147.0 842.0,1148.1 844.3,1149.0 846.6,1149.9 849.0,1150.7 851.4,1151.5 853.8,1152.1 856.2,1152.8 858.6,1153.3 861.1,1153.8 863.6,1154.2 866.0,1154.6 868.5,1154.8 871.0,1155.1 873.5,1155.3 876.0,1155.4 878.5,1155.4 881.0,1155.5 883.5,1155.4 886.0,1155.3 888.5,1155.2 891.0,1154.9 893.5,1154.7 896.0,1154.4 898.4,1154.0 900.9,1153.6 903.4,1153.1 905.8,1152.6 908.2,1152.0 910.6,1151.4 913.0,1150.7 915.4,1149.9 917.8,1149.1 920.1,1148.2 922.4,1147.2 924.7,1146.2 926.9,1145.0 929.1,1143.9 931.3,1142.6 933.4,1141.3 935.5,1139.9 937.5,1138.4 939.5,1136.8 941.4,1135.2 943.2,1133.5 945.0,1131.7 946.7,1129.9 948.3,1128.0 949.9,1126.1 951.5,1124.2 953.0,1122.2 954.5,1120.2 955.9,1118.1 957.4,1116.1 958.7,1114.0 960.1,1111.9 961.4,1109.8 962.8,1107.6 964.1,1105.5 965.4,1103.4 966.7,1101.2 968.0,1099.1 969.3,1097.0 970.6,1094.8 971.9,1092.7 973.2,1090.6 974.5,1088.5 975.8,1086.3 977.1,1084.2 978.4,1082.0 979.7,1079.9 981.0,1077.7 982.2,1075.6 983.5,1073.4 984.7,1071.2 985.8,1069.0 987.0,1066.8 988.2,1064.6 989.3,1062.4 990.5,1060.2 991.7,1058.0 993.0,1055.8 994.4,1053.7 995.8,1051.7 997.3,1049.7 998.8,1047.7 1000.4,1045.8 1002.1,1043.9 1003.7,1042.0 1005.5,1040.2 1007.2,1038.4 1009.0,1036.7 1010.8,1035.0 1012.7,1033.3 1014.5,1031.6 1016.4,1029.9 1018.3,1028.3 1020.2,1026.7 1022.1,1025.1 1024.0,1023.4 1025.9,1021.8 1027.8,1020.2 1029.7,1018.6 1031.6,1016.9 1033.5,1015.3 1035.3,1013.6 1037.2,1011.9 1039.0,1010.2 1040.8,1008.5 1042.6,1006.7 1044.3,1004.9 1046.0,1003.1 1047.7,1001.2 1049.3,999.3 1050.9,997.4 1052.4,995.4 1053.9,993.4 1055.4,991.4 1056.8,989.3 1058.2,987.2 1059.5,985.1 1060.8,982.9 1062.0,980.7 1063.1,978.5 1064.3,976.3 1065.3,974.0 1066.3,971.7 1067.3,969.4 1068.2,967.1 1069.1,964.8 1070.0,962.4 1070.8,960.1 1071.6,957.7 1072.3,955.3 1073.0,952.9 1073.7,950.5 1074.4,948.1 1075.0,945.7 1075.7,943.3 1076.3,940.8 1076.9,938.4 1077.5,936.0 1078.1,933.6 1078.7,931.1 1079.3,928.7 1079.9,926.3 1080.4,923.8 1081.0,921.4 1081.6,919.0 1082.2,916.5 1082.7,914.1 1083.3,911.7 1083.8,909.2 1084.4,906.8 1085.0,904.3 1085.5,901.9 1086.1,899.5 1086.6,897.0 1087.1,894.6 1087.7,892.1 1088.2,889.7 1088.8,887.3 1089.3,884.8 1089.8,882.4 1090.4,879.9 1090.9,877.5 1091.4,875.0 1091.9,872.6 1092.5,870.1 1093.0,867.7 1093.5,865.2 1094.0,862.8 1094.5,860.4 1095.0,857.9 1095.5,855.5 1096.0,853.0 1096.6,850.6 1097.1,848.1 1097.6,845.7 1098.1,843.2 1098.5,840.8 1099.0,838.3 1099.5,835.8 1100.0,833.4 1100.5,830.9 1101.0,828.5 1101.5,826.0 1102.0,823.6 1102.5,821.1 1102.9,818.7 1103.4,816.2 1103.9,813.8 1104.4,811.3 1104.8,808.9 1105.3,806.4 1105.8,803.9 1106.3,801.5 1106.7,799.0 1107.2,796.6 1107.7,794.1 1108.1,791.7 1108.6,789.2 1109.1,786.7 1109.5,784.3 1110.0,781.8 1110.4,779.4 1110.9,776.9 1111.4,774.5 1111.8,772.0 1112.3,769.5 1112.7,767.1 1113.2,764.6 1113.6,762.2 1114.1,759.7 1114.5,757.2 1115.0,754.8 1115.4,752.3 1115.9,749.9 1116.3,747.4 1116.8,744.9 1117.2,742.5 1117.7,740.0 1118.1,737.6 1118.6,735.1 1119.0,732.6 1119.5,730.2 1119.9,727.7 1120.4,725.3 1120.8,722.8 1121.3,720.3 1121.7,717.9 1122.2,715.4 1122.6,713.0 1123.0,710.5 1123.5,708.0 1123.9,705.6 1124.4,703.1 1124.8,700.6 1125.3,698.2 1125.7,695.7 1126.2,693.3 1126.6,690.8 1127.0,688.3 1127.5,685.9 1127.9,683.4 1128.4,681.0 1128.8,678.5 1129.3,676.0 1129.7,673.6 1130.2,671.1 1130.6,668.7 1131.1,666.2 1131.5,663.7 1132.0,661.3 1132.4,658.8 1132.9,656.4 1133.3,653.9 1133.8,651.4 1134.3,649.0 1134.7,646.5 1135.2,644.1 1135.7,641.6 1136.2,639.2 1136.7,636.7 1137.1,634.3 1137.6,631.8 1138.1,629.4 1138.6,626.9 1139.2,624.5 1139.7,622.0 1140.2,619.6 1140.8,617.1 1141.3,614.7 1141.9,612.3 1142.5,609.8 1143.1,607.4 1143.8,605.0 1144.5,602.6 1145.3,600.2 1146.2,597.9 1147.1,595.6 1148.2,593.3 1149.3,591.1 1150.4,588.8 1151.7,586.7 1153.1,584.6 1154.5,582.6 1156.1,580.6 1158.0,579.0 1160.3,578.1 1162.7,578.7 1164.7,580.2 1166.3,582.2 1167.6,584.3 1168.7,586.5 1169.7,588.8 1170.4,591.2 1171.0,593.6 1171.6,596.1 1172.0,598.5 1172.5,601.0 1173.0,603.4 1173.5,605.9 1174.0,608.3 1174.5,610.8 1175.0,613.2 1175.6,615.7 1176.1,618.1 1176.6,620.6 1177.1,623.0 1177.5,625.5 1178.0,627.9 1178.5,630.4 1178.9,632.9 1179.4,635.3 1179.8,637.8 1180.3,640.2 1180.7,642.7 1181.1,645.2 1181.5,647.6 1181.9,650.1 1182.3,652.6 1182.7,655.0 1183.1,657.5 1183.5,660.0 1183.9,662.5 1184.3,664.9 1184.7,667.4 1185.1,669.9 1185.4,672.3 1185.8,674.8 1186.2,677.3 1186.6,679.8 1187.0,682.2 1187.3,684.7 1187.7,687.2 1188.1,689.6 1188.5,692.1 1188.8,694.6 1189.2,697.1 1189.6,699.5 1189.9,702.0 1190.3,704.5 1190.7,707.0 1191.1,709.4 1191.4,711.9 1191.8,714.4 1192.1,716.9 1192.5,719.3 1192.9,721.8 1193.2,724.3 1193.6,726.8 1194.0,729.2 1194.3,731.7 1194.7,734.2 1195.0,736.7 1195.4,739.1 1195.7,741.6 1196.1,744.1 1196.4,746.6 1196.8,749.0 1197.1,751.5 1197.5,754.0 1197.8,756.5 1198.2,758.9 1198.5,761.4 1198.9,763.9 1199.2,766.4 1199.6,768.8 1199.9,771.3 1200.2,773.8 1200.6,776.3 1200.9,778.8 1201.3,781.2 1201.6,783.7 1201.9,786.2 1202.3,788.7 1202.6,791.1 1202.9,793.6 1203.3,796.1 1203.6,798.6 1203.9,801.1 1204.3,803.5 1204.6,806.0 1204.9,808.5 1205.3,811.0 1205.6,813.5 1205.9,815.9 1206.2,818.4 1206.6,820.9 1206.9,823.4 1207.2,825.9 1207.5,828.3 1207.9,830.8 1208.2,833.3 1208.5,835.8 1208.8,838.3 1209.1,840.7 1209.4,843.2 1209.8,845.7 1210.1,848.2 1210.4,850.7 1210.7,853.1 1211.0,855.6 1211.3,858.1 1211.6,860.6 1211.9,863.1 1212.3,865.6 1212.6,868.0 1212.9,870.5 1213.2,873.0 1213.5,875.5 1213.8,878.0 1214.1,880.4 1214.4,882.9 1214.7,885.4 1215.0,887.9 1215.3,890.4 1215.6,892.9 1215.9,895.3 1216.2,897.8 1216.5,900.3 1216.8,902.8 1217.1,905.3 1217.4,907.8 1217.7,910.2 1218.0,912.7 1218.3,915.2 1218.5,917.7 1218.8,920.2 1219.1,922.7 1219.4,925.1 1219.7,927.6 1220.0,930.1 1220.3,932.6 1220.6,935.1 1220.9,937.6 1221.1,940.1 1221.4,942.5 1221.7,945.0 1222.0,947.5 1222.3,950.0 1222.6,952.5 1222.9,955.0 1223.1,957.4 1223.4,959.9 1223.7,962.4 1224.0,964.9 1224.3,967.4 1224.6,969.9 1224.9,972.3 1225.2,974.8 1225.4,977.3 1225.7,979.8 1226.0,982.3 1226.3,984.8 1226.6,987.3 1226.9,989.7 1227.2,992.2 1227.5,994.7 1227.8,997.2 1228.1,999.7 1228.4,1002.2 1228.7,1004.6 1229.0,1007.1 1229.3,1009.6 1229.6,1012.1 1229.9,1014.6 1230.2,1017.0 1230.5,1019.5 1230.8,1022.0 1231.1,1024.5 1231.4,1027.0 1231.8,1029.5 1232.1,1031.9 1232.4,1034.4 1232.7,1036.9 1233.0,1039.4 1233.4,1041.9 1233.7,1044.3 1234.0,1046.8 1234.4,1049.3 1234.7,1051.8 1235.0,1054.2 1235.4,1056.7 1235.7,1059.2 1236.1,1061.7 1236.4,1064.2 1236.8,1066.6 1237.1,1069.1 1237.5,1071.6 1237.8,1074.1 1238.2,1076.5 1238.6,1079.0 1238.9,1081.5 1239.3,1084.0 1239.7,1086.4 1240.0,1088.9 1240.4,1091.4 1240.8,1093.8 1241.2,1096.3 1241.6,1098.8 1242.0,1101.3 1242.4,1103.7 1242.8,1106.2 1243.2,1108.7 1243.6,1111.1 1244.0,1113.6 1244.4,1116.1 1244.9,1118.5 1245.3,1121.0 1245.7,1123.4 1246.2,1125.9 1246.6,1128.4 1247.0,1130.8 1247.5,1133.3 1247.9,1135.8 1248.4,1138.2 1248.9,1140.7 1249.3,1143.1 1249.8,1145.6 1250.3,1148.0 1250.8,1150.5 1251.2,1152.9 1251.7,1155.4 1252.2,1157.8 1252.7,1160.3 1253.2,1162.7 1253.7,1165.2 1254.3,1167.6 1254.8,1170.1 1255.3,1172.5 1255.8,1175.0 1256.4,1177.4 1256.9,1179.9 1257.5,1182.3 1258.0,1184.7 1258.6,1187.2 1259.2,1189.6 1259.8,1192.0 1260.4,1194.5 1261.0,1196.9 1261.7,1199.3 1262.3,1201.7 1263.0,1204.1 1263.7,1206.5 1264.4,1208.9 1265.1,1211.3 1265.8,1213.7 1266.6,1216.1 1267.4,1218.5 1268.2,1220.8 1269.0,1223.2 1269.8,1225.6 1270.7,1227.9 1271.6,1230.2 1272.5,1232.6 1273.5,1234.9 1274.5,1237.2 1275.5,1239.5 1276.5,1241.7 1277.6,1244.0 1278.7,1246.2 1279.8,1248.5 1281.0,1250.7 1282.1,1252.9 1283.4,1255.1 1284.6,1257.2 1285.9,1259.4 1287.3,1261.5 1288.6,1263.6 1290.0,1265.7 1291.4,1267.7 1292.9,1269.7 1294.4,1271.7 1295.9,1273.7 1297.5,1275.7 1299.1,1277.6 1300.7,1279.5 1302.4,1281.3 1304.1,1283.2 1305.9,1285.0 1307.7,1286.7 1309.5,1288.4 1311.5,1289.9 1313.5,1291.3 1315.7,1292.6 1318.0,1293.6 1320.3,1294.5 1322.7,1295.2 1325.1,1295.9 1327.6,1296.5 1330.0,1297.1 1332.4,1297.7 1334.9,1298.2 1337.3,1298.7 1339.8,1299.1 1342.3,1299.5 1344.7,1299.8 1347.2,1300.0 1349.7,1300.2 1352.2,1300.4 1354.7,1300.5 1357.2,1300.6 1359.7,1300.7 1362.2,1300.8 1364.7,1300.8 1367.2,1300.8 1369.7,1300.9 1372.2,1300.9 1374.7,1301.0 1377.2,1301.0 1379.7,1301.1 1382.2,1301.2 1384.7,1301.3 1387.2,1301.5 1389.7,1301.6 1392.2,1301.8 1394.7,1301.9 1397.2,1302.1 1399.7,1302.3 1402.2,1302.5 1404.7,1302.7 1407.2,1302.8 1409.7,1303.0 1412.2,1303.2 1414.7,1303.4 1417.1,1303.5 1419.6,1303.7 1422.1,1303.9 1424.6,1304.1 1427.1,1304.2 1429.6,1304.4 1432.1,1304.6 1434.6,1304.7 1437.1,1304.9 1439.6,1305.1 1442.1,1305.2 1444.6,1305.4 1447.1,1305.6 1449.6,1305.7 1452.1,1305.9 1454.6,1306.1 1457.1,1306.2 1459.6,1306.4 1462.1,1306.6 1464.6,1306.7 1467.1,1306.9 1469.5,1307.0 1472.0,1307.2 1474.5,1307.3 1477.0,1307.5 1479.5,1307.7 1482.0,1307.8 1484.5,1308.0 1487.0,1308.1 1489.5,1308.3 1492.0,1308.4 1494.5,1308.6 1497.0,1308.7 1499.5,1308.9 1502.0,1309.0 1504.5,1309.1 1507.0,1309.3 1509.5,1309.4 1512.0,1309.6 1514.5,1309.7 1517.0,1309.9 1519.5,1310.0 1522.0,1310.1 1524.5,1310.3 1527.0,1310.4 1529.5,1310.6 1532.0,1310.7 1534.5,1310.8 1537.0,1311.0 1539.5,1311.1 1542.0,1311.2 1544.4,1311.4 1546.9,1311.5 1549.4,1311.7 1551.9,1311.8 1554.4,1311.9 1556.9,1312.1 1559.4,1312.2 1561.9,1312.3 1564.4,1312.5 1566.9,1312.6 1569.4,1312.8 1571.9,1312.9 1574.4,1313.0 1576.9,1313.2 1579.4,1313.3 1581.9,1313.5 1584.4,1313.6 1586.9,1313.8 1589.4,1314.0 1591.9,1314.1 1594.4,1314.3 1596.9,1314.5 1599.4,1314.7 1601.9,1314.9 1604.3,1315.2 1606.8,1315.4 1609.3,1315.7 1611.8,1316.0 1614.3,1316.3 1616.8,1316.6 1619.2,1316.9 1621.7,1317.3 1624.2,1317.7 1626.7,1318.1 1629.1,1318.5 1631.6,1319.0 1634.0,1319.5 1636.5,1320.0 1638.9,1320.5 1641.4,1321.1 1643.8,1321.7 1646.2,1322.2 1648.7,1322.8 1651.1,1323.4 1653.5,1324.1 1655.9,1324.7 1658.4,1325.3 1660.8,1325.9 1663.2,1326.5 1665.6,1327.1 1668.1,1327.7 1670.5,1328.2 1672.9,1328.8 1675.4,1329.3 1677.8,1329.8 1680.3,1330.3 1682.8,1330.8 1685.2,1331.2 1687.7,1331.6 1690.2,1331.9 1692.6,1332.3 1695.1,1332.5 1697.6,1332.8 1700.1,1333.1 1702.6,1333.3 1705.1,1333.5 1707.6,1333.6 1710.1,1333.8 1712.6,1334.0 1715.1,1334.1 1717.6,1334.2 1720.1,1334.3 1722.6,1334.4 1725.1,1334.5 1727.6,1334.6 1730.1,1334.7 1732.6,1334.8 1735.1,1334.9 1737.6,1335.0 1740.1,1335.1 1742.6,1335.2 1745.1,1335.3 1747.6,1335.5 1750.0,1335.6 1752.5,1335.8 1755.0,1335.9 1757.5,1336.1 1760.0,1336.2 1762.5,1336.4 1765.0,1336.5 1767.5,1336.7 1770.0,1336.9 1772.5,1337.1 1775.0,1337.2 1777.5,1337.4 1780.0,1337.6 1782.5,1337.7 1785.0,1337.9 1787.5,1338.1 1790.0,1338.2 1792.5,1338.4 1795.0,1338.5 1797.5,1338.7 1800.0,1338.8 1802.5,1338.9 1805.0,1339.0 1807.5,1339.2 1810.0,1339.3 1812.5,1339.4 1815.0,1339.5 1817.5,1339.5 1820.0,1339.6 1822.5,1339.7 1825.0,1339.8 1827.5,1339.8 1830.0,1339.9 1832.5,1339.9 1835.0,1340.0 1837.5,1340.0 1840.0,1340.1 1842.5,1340.1 1845.0,1340.2 1847.5,1340.2 1850.0,1340.2 1852.5,1340.3 1855.0,1340.3 1857.5,1340.3 1860.0,1340.4 1862.5,1340.4 1865.0,1340.5 1867.5,1340.5 1870.0,1340.5 1872.5,1340.6 1875.0,1340.6 1877.5,1340.7 1880.0,1340.7 1882.5,1340.8 1885.0,1340.8 1887.5,1340.9 1890.0,1340.9 1892.5,1341.0 1895.0,1341.0 1897.5,1341.1 1900.0,1341.1 1902.5,1341.2 1905.0,1341.2 1907.5,1341.3 1910.0,1341.4 1912.5,1341.4 1915.0,1341.5 1917.5,1341.5 1920.0,1341.6 1922.5,1341.6 1925.0,1341.7 1927.5,1341.8 1930.0,1341.8 1932.5,1341.9 1935.0,1342.0 1937.5,1342.0 1940.0,1342.1 1942.5,1342.1 1945.0,1342.2 1947.5,1342.3 1950.0,1342.3 1952.5,1342.4 1955.0,1342.5 1957.5,1342.5 1960.0,1342.6 1962.5,1342.6 1965.0,1342.7 1967.5,1342.8 1970.0,1342.8 1972.5,1342.9 1975.0,1343.0 1977.5,1343.0 1980.0,1343.1 1982.5,1343.1 1985.0,1343.2 1987.5,1343.3 1990.0,1343.3 1992.5,1343.4 1995.0,1343.4 1997.5,1343.5 2000.0,1343.6 2002.5,1343.6 2005.0,1343.7 2007.5,1343.7 2010.0,1343.8 2012.5,1343.8 2015.0,1343.9 2017.5,1343.9 2020.0,1344.0 2022.5,1344.0 2025.0,1344.1 2027.5,1344.1 2030.0,1344.2 2032.5,1344.2 2035.0,1344.3 2037.5,1344.3 2040.0,1344.4 2042.5,1344.4 2045.0,1344.5 2047.5,1344.5 2050.0,1344.5 2052.5,1344.6 2055.0,1344.6 2057.5,1344.6 2060.0,1344.7 2062.5,1344.7 2065.0,1344.7 2067.5,1344.8 2070.0,1344.8 2072.5,1344.8 2075.0,1344.8 2077.5,1344.9 2080.0,1344.9 2082.5,1344.9 2085.0,1344.9 2087.5,1344.9 2090.0,1344.9 2092.5,1344.9 2095.0,1344.9 2097.5,1345.0 2100.0,1345.0 2102.5,1345.0 2105.0,1345.0 2107.5,1345.0 2110.0,1344.9 2112.5,1344.9 2115.0,1344.9 2117.5,1344.9 2120.0,1344.9 2122.5,1344.9 2125.0,1344.9 2127.5,1344.8 2130.0,1344.8 2132.5,1344.8 2135.0,1344.8 2137.5,1344.7 2140.0,1344.7"/><path id="c_blue" d="M280.1,1275.0 282.3,1276.2 284.3,1277.6 286.3,1279.1 288.2,1280.8 290.1,1282.4 291.9,1284.2 293.7,1285.9 295.5,1287.7 297.3,1289.4 299.1,1291.1 300.9,1292.8 302.8,1294.5 304.7,1296.1 306.7,1297.6 308.8,1299.0 310.9,1300.2 313.2,1301.3 315.6,1302.1 318.0,1302.7 320.5,1303.0 323.0,1303.1 325.5,1303.0 328.0,1302.7 330.4,1302.4 332.9,1301.9 335.3,1301.3 337.7,1300.6 340.1,1299.9 342.5,1299.2 344.9,1298.4 347.3,1297.7 349.7,1296.9 352.0,1296.2 354.4,1295.4 356.8,1294.7 359.2,1294.1 361.7,1293.4 364.1,1292.8 366.5,1292.1 368.9,1291.5 371.3,1290.8 373.7,1290.1 376.1,1289.3 378.4,1288.4 380.8,1287.5 383.1,1286.6 385.3,1285.5 387.6,1284.4 389.7,1283.1 391.9,1281.8 393.9,1280.4 396.0,1279.0 398.1,1277.6 400.1,1276.2 402.2,1274.9 404.4,1273.6 406.6,1272.4 408.9,1271.4 411.2,1270.6 413.7,1269.9 416.1,1269.5 418.6,1269.4 421.1,1269.4 423.6,1269.6 426.1,1270.0 428.5,1270.5 430.9,1271.2 433.3,1272.0 435.6,1272.9 437.9,1274.0 440.1,1275.1 442.3,1276.4 444.4,1277.7 446.5,1279.1 448.5,1280.5 450.5,1282.0 452.5,1283.6 454.4,1285.2 456.3,1286.8 458.2,1288.4 460.1,1290.0 462.0,1291.7 463.9,1293.3 465.7,1295.0 467.6,1296.6 469.5,1298.2 471.5,1299.8 473.4,1301.4 475.4,1302.9 477.4,1304.3 479.5,1305.8 481.6,1307.1 483.8,1308.4 486.0,1309.5 488.3,1310.6 490.6,1311.5 492.9,1312.3 495.3,1313.0 497.8,1313.6 500.2,1314.1 502.7,1314.5 505.2,1314.8 507.6,1315.1 510.1,1315.3 512.6,1315.4 515.1,1315.5 517.6,1315.6 520.1,1315.7 522.6,1315.7 525.1,1315.7 527.6,1315.7 530.1,1315.8 532.6,1315.8 535.1,1315.8 537.6,1315.8 540.1,1315.7 542.6,1315.7 545.1,1315.7 547.6,1315.7 550.1,1315.7 552.6,1315.6 555.1,1315.6 557.6,1315.6 560.1,1315.5 562.6,1315.5 565.1,1315.5 567.6,1315.4 570.1,1315.4 572.6,1315.4 575.1,1315.4 577.6,1315.3 580.1,1315.3 582.6,1315.3 585.1,1315.3 587.6,1315.3 590.1,1315.3 592.6,1315.3 595.1,1315.4 597.6,1315.4 600.1,1315.4 602.6,1315.5 605.1,1315.5 607.6,1315.6 610.1,1315.6 612.6,1315.7 615.1,1315.8 617.6,1315.8 620.1,1315.9 622.6,1316.0 625.1,1316.1 627.6,1316.2 630.1,1316.4 632.6,1316.5 635.1,1316.6 637.6,1316.8 640.1,1316.9 642.6,1317.1 645.1,1317.2 647.6,1317.4 650.1,1317.6 652.6,1317.7 655.1,1317.9 657.6,1318.1 660.1,1318.3 662.6,1318.5 665.0,1318.7 667.5,1319.0 670.0,1319.2 672.5,1319.4 675.0,1319.7 677.5,1319.9 680.0,1320.2 682.5,1320.4 685.0,1320.7 687.4,1321.0 689.9,1321.2 692.4,1321.5 694.9,1321.8 697.4,1322.1 699.9,1322.3 702.4,1322.6 704.8,1322.9 707.3,1323.1 709.8,1323.4 712.3,1323.6 714.8,1323.9 717.3,1324.1 719.8,1324.3 722.3,1324.6 724.7,1324.8 727.2,1325.0 729.7,1325.1 732.2,1325.3 734.7,1325.5 737.2,1325.6 739.7,1325.7 742.2,1325.8 744.7,1325.9 747.2,1326.0 749.7,1326.1 752.2,1326.1 754.7,1326.1 757.2,1326.1 759.7,1326.1 762.2,1326.0 764.7,1325.9 767.2,1325.8 769.7,1325.7 772.2,1325.6 774.7,1325.4 777.2,1325.2 779.7,1325.0 782.2,1324.8 784.7,1324.5 787.2,1324.3 789.6,1324.0 792.1,1323.7 794.6,1323.4 797.1,1323.1 799.6,1322.7 802.0,1322.4 804.5,1322.0 807.0,1321.6 809.4,1321.2 811.9,1320.8 814.4,1320.3 816.8,1319.8 819.2,1319.2 821.6,1318.6 824.0,1317.8 826.4,1317.0 828.7,1316.0 831.0,1315.0 833.3,1314.0 835.5,1312.9 837.8,1311.9 840.1,1310.8 842.3,1309.8 844.6,1308.8 846.9,1307.8 849.2,1306.9 851.6,1305.9 853.9,1305.0 856.2,1304.1 858.6,1303.3 860.9,1302.4 863.3,1301.5 865.6,1300.7 868.0,1299.8 870.3,1298.9 872.6,1298.0 874.9,1297.0 877.3,1296.1 879.6,1295.1 881.8,1294.1 884.1,1293.1 886.4,1292.0 888.6,1290.9 890.8,1289.7 893.0,1288.6 895.2,1287.4 897.4,1286.1 899.6,1284.8 901.7,1283.5 903.8,1282.2 905.9,1280.8 908.0,1279.4 910.0,1278.0 912.1,1276.6 914.1,1275.1 916.0,1273.5 918.0,1272.0 919.9,1270.4 921.8,1268.7 923.7,1267.1 925.5,1265.4 927.3,1263.7 929.1,1261.9 930.9,1260.1 932.6,1258.3 934.3,1256.5 936.0,1254.6 937.6,1252.7 939.2,1250.8 940.8,1248.9 942.4,1247.0 943.9,1245.0 945.4,1243.0 946.9,1241.0 948.4,1239.0 949.8,1236.9 951.3,1234.9 952.7,1232.8 954.1,1230.7 955.4,1228.6 956.8,1226.5 958.1,1224.4 959.4,1222.3 960.7,1220.1 962.0,1218.0 963.3,1215.8 964.5,1213.7 965.8,1211.5 967.0,1209.3 968.2,1207.1 969.4,1205.0 970.6,1202.8 971.8,1200.6 973.0,1198.4 974.2,1196.2 975.3,1193.9 976.5,1191.7 977.7,1189.5 978.8,1187.3 980.0,1185.1 981.1,1182.9 982.3,1180.7 983.4,1178.4 984.6,1176.2 985.8,1174.0 986.9,1171.8 988.1,1169.6 989.2,1167.4 990.4,1165.2 991.6,1163.0 992.8,1160.7 994.0,1158.6 995.2,1156.4 996.4,1154.2 997.6,1152.0 998.8,1149.8 1000.1,1147.6 1001.3,1145.5 1002.6,1143.3 1003.9,1141.2 1005.2,1139.1 1006.5,1136.9 1007.8,1134.8 1009.2,1132.7 1010.5,1130.6 1011.9,1128.5 1013.3,1126.4 1014.7,1124.3 1016.1,1122.3 1017.5,1120.2 1018.9,1118.2 1020.4,1116.1 1021.8,1114.1 1023.3,1112.1 1024.8,1110.1 1026.3,1108.1 1027.8,1106.1 1029.3,1104.1 1030.8,1102.1 1032.4,1100.1 1033.9,1098.2 1035.5,1096.2 1037.0,1094.3 1038.6,1092.3 1040.2,1090.4 1041.8,1088.4 1043.3,1086.5 1044.9,1084.5 1046.4,1082.5 1047.9,1080.5 1049.4,1078.5 1050.8,1076.5 1052.2,1074.4 1053.6,1072.3 1054.9,1070.2 1056.2,1068.0 1057.4,1065.8 1058.6,1063.6 1059.7,1061.4 1060.8,1059.2 1061.9,1056.9 1062.9,1054.6 1063.9,1052.3 1064.9,1050.0 1065.8,1047.7 1066.8,1045.4 1067.7,1043.1 1068.6,1040.7 1069.4,1038.4 1070.3,1036.0 1071.1,1033.7 1072.0,1031.3 1072.8,1029.0 1073.6,1026.6 1074.4,1024.2 1075.2,1021.9 1075.9,1019.5 1076.7,1017.1 1077.4,1014.7 1078.2,1012.3 1078.9,1009.9 1079.6,1007.5 1080.3,1005.1 1081.0,1002.7 1081.6,1000.3 1082.3,997.9 1083.0,995.5 1083.6,993.1 1084.2,990.6 1084.8,988.2 1085.5,985.8 1086.1,983.4 1086.6,980.9 1087.2,978.5 1087.8,976.1 1088.4,973.6 1088.9,971.2 1089.4,968.8 1090.0,966.3 1090.5,963.9 1091.0,961.4 1091.5,959.0 1092.0,956.5 1092.5,954.1 1093.0,951.6 1093.5,949.2 1094.0,946.7 1094.5,944.3 1094.9,941.8 1095.4,939.3 1095.8,936.9 1096.3,934.4 1096.7,932.0 1097.1,929.5 1097.6,927.0 1098.0,924.6 1098.4,922.1 1098.8,919.6 1099.2,917.2 1099.7,914.7 1100.1,912.2 1100.5,909.8 1100.9,907.3 1101.3,904.8 1101.6,902.4 1102.0,899.9 1102.4,897.4 1102.8,895.0 1103.2,892.5 1103.6,890.0 1103.9,887.5 1104.3,885.1 1104.7,882.6 1105.1,880.1 1105.4,877.7 1105.8,875.2 1106.2,872.7 1106.6,870.2 1106.9,867.8 1107.3,865.3 1107.7,862.8 1108.0,860.4 1108.4,857.9 1108.8,855.4 1109.2,852.9 1109.5,850.5 1109.9,848.0 1110.3,845.5 1110.7,843.1 1111.0,840.6 1111.4,838.1 1111.8,835.6 1112.2,833.2 1112.6,830.7 1113.0,828.2 1113.4,825.8 1113.8,823.3 1114.2,820.8 1114.6,818.4 1115.0,815.9 1115.4,813.4 1115.9,811.0 1116.3,808.5 1116.7,806.0 1117.1,803.6 1117.5,801.1 1118.0,798.6 1118.4,796.2 1118.8,793.7 1119.3,791.3 1119.7,788.8 1120.1,786.3 1120.5,783.9 1121.0,781.4 1121.4,778.9 1121.8,776.5 1122.3,774.0 1122.7,771.5 1123.1,769.1 1123.5,766.6 1124.0,764.2 1124.4,761.7 1124.8,759.2 1125.2,756.8 1125.7,754.3 1126.1,751.8 1126.5,749.4 1126.9,746.9 1127.3,744.4 1127.7,742.0 1128.1,739.5 1128.5,737.0 1128.9,734.6 1129.3,732.1 1129.6,729.6 1130.0,727.1 1130.4,724.7 1130.8,722.2 1131.1,719.7 1131.5,717.3 1131.9,714.8 1132.3,712.3 1132.7,709.8 1133.1,707.4 1133.5,704.9 1134.0,702.5 1134.5,700.0 1134.9,697.6 1135.5,695.1 1136.0,692.7 1136.6,690.2 1137.2,687.8 1137.8,685.4 1138.5,683.0 1139.2,680.6 1139.9,678.2 1140.7,675.8 1141.5,673.5 1142.4,671.1 1143.3,668.8 1144.3,666.5 1145.3,664.2 1146.3,661.9 1147.4,659.7 1148.6,657.4 1149.8,655.3 1151.0,653.1 1152.3,651.0 1153.7,648.8 1155.1,646.8 1156.6,644.8 1158.4,643.1 1160.8,642.4 1162.9,643.7 1164.5,645.6 1165.8,647.7 1166.8,650.0 1167.7,652.3 1168.3,654.7 1169.0,657.2 1169.5,659.6 1170.1,662.0 1170.7,664.5 1171.3,666.9 1171.9,669.3 1172.5,671.7 1173.1,674.2 1173.7,676.6 1174.3,679.0 1174.9,681.5 1175.5,683.9 1176.0,686.3 1176.6,688.8 1177.2,691.2 1177.8,693.6 1178.3,696.1 1178.9,698.5 1179.4,700.9 1180.0,703.4 1180.5,705.8 1181.0,708.3 1181.5,710.7 1182.0,713.2 1182.5,715.6 1182.9,718.1 1183.4,720.5 1183.8,723.0 1184.3,725.5 1184.7,727.9 1185.1,730.4 1185.6,732.9 1186.0,735.3 1186.4,737.8 1186.8,740.3 1187.1,742.7 1187.5,745.2 1187.9,747.7 1188.3,750.1 1188.6,752.6 1189.0,755.1 1189.3,757.6 1189.7,760.0 1190.0,762.5 1190.4,765.0 1190.7,767.5 1191.0,770.0 1191.3,772.4 1191.7,774.9 1192.0,777.4 1192.3,779.9 1192.6,782.4 1192.9,784.8 1193.2,787.3 1193.5,789.8 1193.9,792.3 1194.2,794.8 1194.5,797.2 1194.8,799.7 1195.1,802.2 1195.4,804.7 1195.7,807.2 1196.0,809.7 1196.3,812.1 1196.6,814.6 1196.9,817.1 1197.2,819.6 1197.5,822.1 1197.8,824.5 1198.1,827.0 1198.4,829.5 1198.7,832.0 1199.0,834.5 1199.3,837.0 1199.7,839.4 1200.0,841.9 1200.3,844.4 1200.6,846.9 1200.9,849.4 1201.2,851.8 1201.5,854.3 1201.8,856.8 1202.1,859.3 1202.4,861.8 1202.7,864.2 1203.0,866.7 1203.4,869.2 1203.7,871.7 1204.0,874.2 1204.3,876.6 1204.6,879.1 1204.9,881.6 1205.2,884.1 1205.5,886.6 1205.8,889.1 1206.1,891.5 1206.4,894.0 1206.7,896.5 1207.1,899.0 1207.4,901.5 1207.7,903.9 1208.0,906.4 1208.3,908.9 1208.6,911.4 1208.9,913.9 1209.2,916.3 1209.5,918.8 1209.8,921.3 1210.1,923.8 1210.4,926.3 1210.7,928.8 1211.0,931.2 1211.3,933.7 1211.7,936.2 1212.0,938.7 1212.3,941.2 1212.6,943.6 1212.9,946.1 1213.2,948.6 1213.5,951.1 1213.8,953.6 1214.1,956.1 1214.4,958.5 1214.7,961.0 1215.0,963.5 1215.3,966.0 1215.6,968.5 1215.9,971.0 1216.2,973.4 1216.5,975.9 1216.8,978.4 1217.1,980.9 1217.3,983.4 1217.6,985.8 1217.9,988.3 1218.2,990.8 1218.5,993.3 1218.8,995.8 1219.1,998.3 1219.4,1000.7 1219.7,1003.2 1220.0,1005.7 1220.3,1008.2 1220.6,1010.7 1220.8,1013.2 1221.1,1015.6 1221.4,1018.1 1221.7,1020.6 1222.0,1023.1 1222.3,1025.6 1222.5,1028.1 1222.8,1030.6 1223.1,1033.0 1223.4,1035.5 1223.7,1038.0 1224.0,1040.5 1224.2,1043.0 1224.5,1045.5 1224.8,1047.9 1225.1,1050.4 1225.4,1052.9 1225.7,1055.4 1225.9,1057.9 1226.2,1060.4 1226.5,1062.8 1226.8,1065.3 1227.1,1067.8 1227.4,1070.3 1227.7,1072.8 1228.0,1075.3 1228.3,1077.7 1228.6,1080.2 1228.9,1082.7 1229.2,1085.2 1229.5,1087.7 1229.8,1090.2 1230.1,1092.6 1230.4,1095.1 1230.7,1097.6 1231.0,1100.1 1231.3,1102.6 1231.7,1105.0 1232.0,1107.5 1232.3,1110.0 1232.6,1112.5 1233.0,1115.0 1233.3,1117.4 1233.6,1119.9 1234.0,1122.4 1234.3,1124.9 1234.7,1127.3 1235.0,1129.8 1235.4,1132.3 1235.8,1134.8 1236.1,1137.2 1236.5,1139.7 1236.9,1142.2 1237.3,1144.6 1237.6,1147.1 1238.0,1149.6 1238.4,1152.1 1238.8,1154.5 1239.2,1157.0 1239.6,1159.5 1240.0,1161.9 1240.5,1164.4 1240.9,1166.9 1241.3,1169.3 1241.8,1171.8 1242.2,1174.2 1242.6,1176.7 1243.1,1179.2 1243.6,1181.6 1244.0,1184.1 1244.5,1186.5 1245.0,1189.0 1245.5,1191.4 1245.9,1193.9 1246.4,1196.3 1247.0,1198.8 1247.5,1201.2 1248.0,1203.7 1248.5,1206.1 1249.0,1208.6 1249.6,1211.0 1250.1,1213.4 1250.7,1215.9 1251.2,1218.3 1251.8,1220.8 1252.4,1223.2 1253.0,1225.6 1253.6,1228.0 1254.2,1230.5 1254.8,1232.9 1255.4,1235.3 1256.1,1237.7 1256.7,1240.1 1257.4,1242.6 1258.1,1245.0 1258.8,1247.4 1259.5,1249.8 1260.2,1252.2 1260.9,1254.6 1261.6,1256.9 1262.4,1259.3 1263.1,1261.7 1263.9,1264.1 1264.7,1266.5 1265.5,1268.8 1266.3,1271.2 1267.2,1273.5 1268.0,1275.9 1268.9,1278.2 1269.8,1280.6 1270.8,1282.9 1271.7,1285.2 1272.7,1287.5 1273.7,1289.8 1274.8,1292.0 1275.9,1294.3 1277.0,1296.5 1278.1,1298.7 1279.3,1300.9 1280.6,1303.1 1281.8,1305.3 1283.2,1307.4 1284.6,1309.5 1286.0,1311.5 1287.5,1313.5 1289.1,1315.4 1290.7,1317.3 1292.4,1319.1 1294.2,1320.9 1296.1,1322.5 1298.1,1324.1 1300.1,1325.6 1302.2,1326.9 1304.3,1328.2 1306.6,1329.3 1308.8,1330.4 1311.1,1331.3 1313.5,1332.2 1315.8,1333.0 1318.2,1333.8 1320.6,1334.4 1323.1,1335.0 1325.5,1335.6 1328.0,1336.1 1330.4,1336.5 1332.9,1337.0 1335.4,1337.3 1337.8,1337.6 1340.3,1337.9 1342.8,1338.0 1345.3,1338.1 1347.8,1338.0 1350.3,1337.8 1352.8,1337.6 1355.3,1337.3 1357.8,1336.9 1360.2,1336.6 1362.7,1336.3 1365.2,1336.1 1367.7,1336.1 1370.2,1336.1 1372.7,1336.3 1375.2,1336.6 1377.7,1336.9 1380.1,1337.3 1382.6,1337.6 1385.1,1338.0 1387.6,1338.3 1390.1,1338.5 1392.5,1338.8 1395.0,1339.0 1397.5,1339.2 1400.0,1339.4 1402.5,1339.6 1405.0,1339.7 1407.5,1339.9 1410.0,1340.0 1412.5,1340.1 1415.0,1340.3 1417.5,1340.4 1420.0,1340.5 1422.5,1340.6 1425.0,1340.8 1427.5,1340.9 1430.0,1341.0 1432.5,1341.1 1435.0,1341.2 1437.5,1341.4 1440.0,1341.5 1442.5,1341.6 1445.0,1341.7 1447.5,1341.8 1450.0,1341.9 1452.5,1342.0 1455.0,1342.1 1457.5,1342.2 1460.0,1342.3 1462.5,1342.4 1465.0,1342.5 1467.5,1342.6 1470.0,1342.6 1472.5,1342.7 1475.0,1342.8 1477.5,1342.8 1480.0,1342.9 1482.5,1343.0 1485.0,1343.0 1487.5,1343.1 1490.0,1343.1 1492.5,1343.1 1495.0,1343.2 1497.5,1343.2 1500.0,1343.3 1502.5,1343.3 1505.0,1343.3 1507.5,1343.3 1510.0,1343.4 1512.5,1343.4 1515.0,1343.4 1517.5,1343.4 1520.0,1343.5 1522.5,1343.5 1525.0,1343.5 1527.5,1343.5 1530.0,1343.6 1532.5,1343.6 1535.0,1343.6 1537.5,1343.6 1540.0,1343.6 1542.5,1343.7 1545.0,1343.7 1547.5,1343.7 1550.0,1343.7 1552.5,1343.7 1555.0,1343.8 1557.5,1343.8 1560.0,1343.8 1562.5,1343.8 1565.0,1343.8 1567.5,1343.9 1570.0,1343.9 1572.5,1343.9 1575.0,1343.9 1577.5,1343.9 1580.0,1343.9 1582.5,1344.0 1585.0,1344.0 1587.5,1344.0 1590.0,1344.0 1592.5,1344.0 1595.0,1344.0 1597.5,1344.0 1600.0,1344.1 1602.5,1344.1 1605.0,1344.1 1607.5,1344.1 1610.0,1344.1 1612.5,1344.1 1615.0,1344.1 1617.5,1344.2 1620.0,1344.2 1622.5,1344.2 1625.0,1344.2 1627.5,1344.2 1630.0,1344.2 1632.5,1344.2 1635.0,1344.2 1637.5,1344.3 1640.0,1344.3 1642.5,1344.3 1645.0,1344.3 1647.5,1344.3 1650.0,1344.3 1652.5,1344.3 1655.0,1344.3 1657.5,1344.3 1660.0,1344.4 1662.5,1344.4 1665.0,1344.4 1667.5,1344.4 1670.0,1344.4 1672.5,1344.4 1675.0,1344.4 1677.5,1344.4 1680.0,1344.4 1682.5,1344.4 1685.0,1344.4 1687.5,1344.5 1690.0,1344.5 1692.5,1344.5 1695.0,1344.5 1697.5,1344.5 1700.0,1344.5 1702.5,1344.5 1705.0,1344.5 1707.5,1344.5 1710.0,1344.5 1712.5,1344.5 1715.0,1344.5 1717.5,1344.5 1720.0,1344.6 1722.5,1344.6 1725.0,1344.6 1727.5,1344.6 1730.0,1344.6 1732.5,1344.6 1735.0,1344.6 1737.5,1344.6 1740.0,1344.6 1742.5,1344.6 1745.0,1344.6 1747.5,1344.6 1750.0,1344.6 1752.5,1344.6 1755.0,1344.6 1757.5,1344.6 1760.0,1344.7 1762.5,1344.7 1765.0,1344.7 1767.5,1344.7 1770.0,1344.7 1772.5,1344.7 1775.0,1344.7 1777.5,1344.7 1780.0,1344.7 1782.5,1344.7 1785.0,1344.7 1787.5,1344.7 1790.0,1344.7 1792.5,1344.7 1795.0,1344.7 1797.5,1344.7 1800.0,1344.7 1802.5,1344.7 1805.0,1344.7 1807.5,1344.7 1810.0,1344.7 1812.5,1344.7 1815.0,1344.7 1817.5,1344.7 1820.0,1344.7 1822.5,1344.7 1825.0,1344.7 1827.5,1344.7 1830.0,1344.7 1832.5,1344.7 1835.0,1344.7 1837.5,1344.7 1840.0,1344.7 1842.5,1344.7 1845.0,1344.7 1847.5,1344.7 1850.0,1344.7 1852.5,1344.7 1855.0,1344.7 1857.5,1344.7 1860.0,1344.7 1862.5,1344.7 1865.0,1344.7 1867.5,1344.7 1870.0,1344.7 1872.5,1344.7 1875.0,1344.6 1877.5,1344.6 1880.0,1344.6 1882.5,1344.6 1885.0,1344.6 1887.5,1344.6 1890.0,1344.6 1892.5,1344.6 1895.0,1344.6 1897.5,1344.6 1900.0,1344.6 1902.5,1344.5 1905.0,1344.5 1907.5,1344.5 1910.0,1344.5 1912.5,1344.5 1915.0,1344.5 1917.5,1344.5 1920.0,1344.4 1922.5,1344.4 1925.0,1344.4 1927.5,1344.4 1930.0,1344.4 1932.5,1344.4 1935.0,1344.3 1937.5,1344.3 1940.0,1344.3 1942.5,1344.3 1945.0,1344.3 1947.5,1344.2 1950.0,1344.2 1952.5,1344.2 1955.0,1344.2 1957.5,1344.2 1960.0,1344.1 1962.5,1344.1 1965.0,1344.1 1967.5,1344.1 1970.0,1344.1 1972.5,1344.0 1975.0,1344.0 1977.5,1344.0 1980.0,1344.0 1982.5,1344.0 1985.0,1343.9 1987.5,1343.9 1990.0,1343.9 1992.5,1343.9 1995.0,1343.9 1997.5,1343.9 2000.0,1343.8 2002.5,1343.8 2005.0,1343.8 2007.5,1343.8 2010.0,1343.8 2012.5,1343.8 2015.0,1343.7 2017.5,1343.7 2020.0,1343.7 2022.5,1343.7 2025.0,1343.7 2027.5,1343.7 2030.0,1343.7 2032.5,1343.7 2035.0,1343.7 2037.5,1343.7 2040.0,1343.7 2042.5,1343.7 2045.0,1343.6 2047.5,1343.6 2050.0,1343.6 2052.5,1343.6 2055.0,1343.7 2057.5,1343.7 2060.0,1343.7 2062.5,1343.7 2065.0,1343.7 2067.5,1343.7 2070.0,1343.7 2072.5,1343.7 2075.0,1343.7 2077.5,1343.7 2080.0,1343.7 2082.5,1343.8 2085.0,1343.8 2087.5,1343.8 2090.0,1343.8 2092.5,1343.9 2095.0,1343.9 2097.5,1343.9 2100.0,1343.9 2102.5,1344.0 2105.0,1344.0 2107.5,1344.0 2110.0,1344.1 2112.5,1344.1 2115.0,1344.2 2117.5,1344.2 2120.0,1344.2 2122.5,1344.3 2125.0,1344.3 2127.5,1344.4 2130.0,1344.4 2132.5,1344.5 2135.0,1344.6 2137.5,1344.6 2140.0,1344.7"/><path id="c_green" d="M280.0,1055.9 282.5,1056.0 285.0,1056.2 287.5,1056.3 290.0,1056.4 292.5,1056.6 295.0,1056.7 297.5,1056.9 300.0,1057.0 302.5,1057.2 305.0,1057.3 307.5,1057.5 310.0,1057.7 312.5,1057.9 315.0,1058.1 317.5,1058.3 320.0,1058.5 322.5,1058.7 325.0,1059.0 327.4,1059.3 329.9,1059.5 332.4,1059.8 334.9,1060.1 337.4,1060.4 339.9,1060.8 342.3,1061.2 344.8,1061.5 347.3,1061.9 349.7,1062.4 352.2,1062.8 354.7,1063.3 357.1,1063.8 359.6,1064.4 362.0,1065.0 364.4,1065.6 366.8,1066.3 369.2,1067.0 371.6,1067.8 374.0,1068.6 376.3,1069.4 378.6,1070.3 381.0,1071.3 383.3,1072.3 385.5,1073.3 387.8,1074.4 390.1,1075.4 392.3,1076.5 394.6,1077.6 396.9,1078.7 399.1,1079.7 401.4,1080.8 403.7,1081.8 406.0,1082.8 408.2,1083.8 410.5,1084.8 412.8,1085.8 415.1,1086.8 417.4,1087.8 419.7,1088.8 422.0,1089.8 424.3,1090.9 426.6,1091.9 428.9,1092.9 431.2,1093.9 433.4,1094.9 435.7,1096.0 438.0,1097.0 440.3,1098.1 442.5,1099.1 444.8,1100.2 447.1,1101.2 449.4,1102.2 451.7,1103.1 454.0,1104.1 456.4,1105.0 458.7,1105.8 461.1,1106.6 463.5,1107.3 465.9,1107.9 468.3,1108.5 470.8,1109.0 473.3,1109.3 475.8,1109.6 478.3,1109.8 480.8,1109.8 483.3,1109.8 485.8,1109.6 488.3,1109.4 490.7,1109.1 493.2,1108.7 495.7,1108.2 498.1,1107.7 500.5,1107.1 502.9,1106.4 505.3,1105.6 507.7,1104.8 510.1,1104.0 512.4,1103.0 514.7,1102.1 517.0,1101.1 519.2,1100.0 521.5,1098.9 523.7,1097.8 525.9,1096.6 528.1,1095.4 530.3,1094.1 532.4,1092.9 534.6,1091.6 536.7,1090.2 538.8,1088.8 540.9,1087.4 542.9,1086.0 544.9,1084.5 546.9,1083.1 548.9,1081.5 550.9,1080.0 552.9,1078.4 554.8,1076.9 556.7,1075.3 558.6,1073.6 560.5,1072.0 562.4,1070.3 564.2,1068.6 566.1,1066.9 567.9,1065.2 569.7,1063.5 571.5,1061.8 573.3,1060.0 575.1,1058.2 576.8,1056.4 578.6,1054.7 580.3,1052.9 582.0,1051.0 583.8,1049.2 585.5,1047.4 587.2,1045.6 588.9,1043.7 590.6,1041.9 592.2,1040.0 593.9,1038.2 595.6,1036.3 597.3,1034.5 599.0,1032.6 600.6,1030.7 602.3,1028.9 603.9,1027.0 605.6,1025.1 607.3,1023.2 608.9,1021.4 610.6,1019.5 612.2,1017.6 613.8,1015.7 615.5,1013.8 617.1,1011.9 618.7,1010.0 620.4,1008.1 622.0,1006.2 623.6,1004.3 625.2,1002.4 626.9,1000.5 628.5,998.6 630.1,996.7 631.7,994.7 633.3,992.8 634.9,990.9 636.6,989.0 638.2,987.2 639.9,985.3 641.7,983.5 643.5,981.8 645.3,980.1 647.2,978.5 649.2,977.0 651.3,975.6 653.5,974.5 655.9,973.6 658.3,973.0 660.8,972.9 663.3,973.2 665.7,973.8 668.0,974.7 670.3,975.9 672.3,977.2 674.3,978.8 676.1,980.5 677.8,982.3 679.4,984.3 680.9,986.3 682.3,988.4 683.6,990.5 684.9,992.6 686.1,994.8 687.3,997.0 688.4,999.3 689.5,1001.5 690.6,1003.8 691.7,1006.0 692.8,1008.3 693.9,1010.5 695.0,1012.8 696.0,1015.1 697.0,1017.3 698.0,1019.6 699.0,1021.9 700.0,1024.2 700.9,1026.6 701.9,1028.9 702.8,1031.2 703.7,1033.5 704.6,1035.9 705.5,1038.2 706.4,1040.6 707.2,1042.9 708.1,1045.3 709.0,1047.6 709.8,1050.0 710.7,1052.3 711.5,1054.7 712.4,1057.0 713.3,1059.4 714.1,1061.7 715.0,1064.0 715.9,1066.4 716.8,1068.7 717.7,1071.1 718.6,1073.4 719.5,1075.7 720.5,1078.0 721.4,1080.3 722.4,1082.6 723.4,1084.9 724.4,1087.2 725.4,1089.5 726.5,1091.8 727.6,1094.0 728.7,1096.3 729.8,1098.5 731.0,1100.7 732.2,1102.9 733.4,1105.1 734.6,1107.3 735.9,1109.4 737.3,1111.6 738.6,1113.7 740.0,1115.7 741.4,1117.8 742.9,1119.8 744.4,1121.8 745.9,1123.8 747.5,1125.7 749.1,1127.7 750.8,1129.5 752.4,1131.4 754.1,1133.2 755.9,1135.0 757.7,1136.8 759.5,1138.5 761.3,1140.2 763.2,1141.9 765.1,1143.5 767.0,1145.1 769.0,1146.6 771.0,1148.2 773.0,1149.6 775.0,1151.1 777.1,1152.5 779.2,1153.8 781.4,1155.1 783.5,1156.4 785.7,1157.6 787.9,1158.8 790.2,1159.9 792.4,1161.0 794.7,1162.0 797.0,1163.0 799.3,1164.0 801.6,1164.9 804.0,1165.8 806.3,1166.6 808.7,1167.4 811.1,1168.1 813.5,1168.8 815.9,1169.5 818.3,1170.1 820.8,1170.7 823.2,1171.3 825.7,1171.8 828.1,1172.3 830.6,1172.7 833.0,1173.1 835.5,1173.5 838.0,1173.8 840.5,1174.1 843.0,1174.4 845.4,1174.7 847.9,1175.0 850.4,1175.3 852.9,1175.6 855.4,1175.9 857.9,1176.2 860.3,1176.6 862.8,1177.0 865.3,1177.4 867.7,1177.9 870.2,1178.4 872.6,1179.0 875.0,1179.6 877.4,1180.3 879.8,1181.1 882.2,1181.9 884.5,1182.8 886.9,1183.7 889.2,1184.6 891.5,1185.6 893.8,1186.6 896.1,1187.6 898.3,1188.7 900.6,1189.7 902.9,1190.8 905.1,1191.9 907.4,1193.0 909.6,1194.1 911.9,1195.2 914.1,1196.3 916.4,1197.4 918.6,1198.4 920.9,1199.5 923.2,1200.5 925.5,1201.5 927.8,1202.5 930.1,1203.5 932.4,1204.4 934.7,1205.3 937.1,1206.2 939.5,1207.0 941.9,1207.7 944.3,1208.4 946.7,1209.1 949.1,1209.7 951.5,1210.4 953.9,1211.0 956.4,1211.5 958.8,1212.1 961.3,1212.7 963.7,1213.2 966.1,1213.8 968.6,1214.3 971.0,1214.8 973.5,1215.4 975.9,1215.9 978.4,1216.4 980.8,1216.9 983.3,1217.3 985.7,1217.8 988.2,1218.2 990.7,1218.6 993.2,1219.0 995.6,1219.3 998.1,1219.6 1000.6,1219.9 1003.1,1220.2 1005.6,1220.4 1008.1,1220.6 1010.6,1220.8 1013.1,1220.9 1015.6,1221.0 1018.1,1221.0 1020.6,1221.0 1023.1,1221.0 1025.6,1220.9 1028.1,1220.8 1030.6,1220.7 1033.1,1220.5 1035.6,1220.3 1038.1,1220.1 1040.6,1219.9 1043.1,1219.6 1045.5,1219.4 1048.0,1219.1 1050.5,1218.7 1053.0,1218.4 1055.5,1218.0 1057.9,1217.7 1060.4,1217.3 1062.9,1216.9 1065.4,1216.5 1067.8,1216.1 1070.3,1215.8 1072.8,1215.5 1075.3,1215.3 1077.8,1215.1 1080.3,1215.1 1082.8,1215.2 1085.3,1215.4 1087.8,1215.8 1090.2,1216.2 1092.7,1216.7 1095.1,1217.3 1097.5,1217.9 1099.9,1218.6 1102.3,1219.3 1104.7,1220.1 1107.1,1220.9 1109.5,1221.7 1111.8,1222.5 1114.2,1223.3 1116.5,1224.2 1118.9,1225.1 1121.2,1225.9 1123.6,1226.8 1125.9,1227.8 1128.2,1228.7 1130.5,1229.7 1132.8,1230.7 1135.1,1231.7 1137.4,1232.7 1139.6,1233.8 1141.9,1234.9 1144.1,1236.0 1146.3,1237.2 1148.5,1238.4 1150.7,1239.6 1152.9,1240.8 1155.1,1242.1 1157.2,1243.4 1159.3,1244.7 1161.4,1246.0 1163.6,1247.4 1165.7,1248.7 1167.7,1250.1 1169.8,1251.5 1171.9,1252.9 1174.0,1254.3 1176.0,1255.7 1178.1,1257.1 1180.2,1258.5 1182.2,1260.0 1184.3,1261.4 1186.4,1262.8 1188.4,1264.2 1190.5,1265.6 1192.6,1267.0 1194.7,1268.3 1196.8,1269.7 1198.9,1271.1 1201.0,1272.4 1203.1,1273.7 1205.3,1275.0 1207.4,1276.3 1209.6,1277.5 1211.8,1278.8 1214.0,1280.0 1216.2,1281.2 1218.4,1282.4 1220.6,1283.5 1222.8,1284.7 1225.1,1285.8 1227.3,1286.9 1229.6,1287.9 1231.9,1288.9 1234.2,1290.0 1236.5,1290.9 1238.8,1291.9 1241.1,1292.8 1243.4,1293.7 1245.8,1294.6 1248.1,1295.4 1250.5,1296.2 1252.9,1297.0 1255.3,1297.8 1257.7,1298.5 1260.1,1299.2 1262.5,1299.9 1264.9,1300.6 1267.3,1301.2 1269.7,1301.8 1272.1,1302.4 1274.6,1303.0 1277.0,1303.5 1279.5,1304.1 1281.9,1304.6 1284.4,1305.1 1286.8,1305.5 1289.3,1306.0 1291.8,1306.4 1294.2,1306.8 1296.7,1307.2 1299.2,1307.6 1301.7,1308.0 1304.1,1308.3 1306.6,1308.7 1309.1,1309.0 1311.6,1309.3 1314.1,1309.6 1316.5,1309.9 1319.0,1310.2 1321.5,1310.5 1324.0,1310.8 1326.5,1311.1 1329.0,1311.4 1331.5,1311.7 1333.9,1311.9 1336.4,1312.2 1338.9,1312.5 1341.4,1312.7 1343.9,1313.0 1346.4,1313.3 1348.9,1313.5 1351.4,1313.8 1353.9,1314.0 1356.3,1314.3 1358.8,1314.5 1361.3,1314.7 1363.8,1315.0 1366.3,1315.2 1368.8,1315.4 1371.3,1315.7 1373.8,1315.9 1376.3,1316.1 1378.8,1316.3 1381.3,1316.5 1383.8,1316.7 1386.3,1316.9 1388.7,1317.1 1391.2,1317.3 1393.7,1317.5 1396.2,1317.7 1398.7,1317.9 1401.2,1318.1 1403.7,1318.2 1406.2,1318.4 1408.7,1318.6 1411.2,1318.7 1413.7,1318.8 1416.2,1319.0 1418.7,1319.1 1421.2,1319.2 1423.7,1319.3 1426.2,1319.4 1428.7,1319.4 1431.2,1319.5 1433.7,1319.5 1436.2,1319.5 1438.7,1319.5 1441.2,1319.5 1443.7,1319.5 1446.2,1319.4 1448.7,1319.4 1451.2,1319.3 1453.7,1319.3 1456.2,1319.3 1458.7,1319.2 1461.3,1319.2 1463.8,1319.2 1466.3,1319.2 1468.8,1319.3 1471.3,1319.3 1473.8,1319.3 1476.3,1319.4 1478.8,1319.4 1481.3,1319.5 1483.8,1319.6 1486.3,1319.7 1488.8,1319.8 1491.3,1319.9 1493.8,1320.0 1496.3,1320.1 1498.8,1320.2 1501.3,1320.3 1503.8,1320.4 1506.3,1320.6 1508.8,1320.7 1511.3,1320.8 1513.8,1320.9 1516.3,1321.1 1518.8,1321.2 1521.3,1321.4 1523.8,1321.5 1526.3,1321.6 1528.8,1321.8 1531.3,1321.9 1533.8,1322.1 1536.3,1322.2 1538.8,1322.3 1541.3,1322.5 1543.8,1322.6 1546.3,1322.7 1548.8,1322.8 1551.3,1322.9 1553.8,1323.1 1556.3,1323.2 1558.8,1323.3 1561.3,1323.4 1563.8,1323.4 1566.3,1323.5 1568.8,1323.6 1571.3,1323.7 1573.8,1323.7 1576.3,1323.8 1578.8,1323.8 1581.3,1323.8 1583.8,1323.9 1586.3,1323.9 1588.8,1323.9 1591.3,1323.9 1593.8,1323.9 1596.3,1323.9 1598.8,1323.9 1601.3,1323.9 1603.8,1323.8 1606.3,1323.8 1608.8,1323.8 1611.3,1323.7 1613.8,1323.7 1616.3,1323.7 1618.8,1323.6 1621.3,1323.6 1623.8,1323.5 1626.3,1323.5 1628.8,1323.4 1631.3,1323.4 1633.8,1323.3 1636.3,1323.2 1638.8,1323.2 1641.3,1323.1 1643.8,1323.1 1646.3,1323.0 1648.8,1322.9 1651.3,1322.9 1653.8,1322.8 1656.3,1322.8 1658.8,1322.7 1661.3,1322.7 1663.8,1322.7 1666.3,1322.6 1668.8,1322.6 1671.3,1322.5 1673.8,1322.5 1676.4,1322.5 1678.9,1322.5 1681.4,1322.5 1683.9,1322.5 1686.4,1322.4 1688.9,1322.5 1691.4,1322.5 1693.9,1322.5 1696.4,1322.5 1698.9,1322.5 1701.4,1322.6 1703.9,1322.6 1706.4,1322.7 1708.9,1322.8 1711.4,1322.8 1713.9,1322.9 1716.4,1323.0 1718.9,1323.1 1721.4,1323.2 1723.9,1323.4 1726.4,1323.5 1728.9,1323.7 1731.4,1323.8 1733.9,1324.0 1736.4,1324.2 1738.9,1324.3 1741.4,1324.5 1743.9,1324.8 1746.4,1325.0 1748.8,1325.2 1751.3,1325.4 1753.8,1325.7 1756.3,1325.9 1758.8,1326.2 1761.3,1326.4 1763.8,1326.7 1766.3,1327.0 1768.8,1327.3 1771.2,1327.5 1773.7,1327.8 1776.2,1328.1 1778.7,1328.4 1781.2,1328.8 1783.7,1329.1 1786.1,1329.4 1788.6,1329.7 1791.1,1330.1 1793.6,1330.4 1796.1,1330.7 1798.5,1331.1 1801.0,1331.4 1803.5,1331.8 1806.0,1332.2 1808.4,1332.5 1810.9,1332.9 1813.4,1333.3 1815.9,1333.6 1818.3,1334.0 1820.8,1334.4 1823.3,1334.7 1825.8,1335.1 1828.2,1335.5 1830.7,1335.9 1833.2,1336.3 1835.7,1336.6 1838.1,1337.0 1840.6,1337.4 1843.1,1337.8 1845.6,1338.2 1848.0,1338.6 1850.5,1338.9 1853.0,1339.3 1855.4,1339.7 1857.9,1340.1 1860.4,1340.5 1862.9,1340.8 1865.3,1341.2 1867.8,1341.6 1870.3,1342.0 1872.8,1342.3 1875.2,1342.7 1877.7,1343.1 1880.2,1343.4 1882.7,1343.8 1885.2,1344.1 1887.6,1344.5 1890.1,1344.8 1892.6,1345.2 1895.1,1345.5 1897.6,1345.8 1900.0,1346.1 1902.5,1346.5 1905.0,1346.8 1907.5,1347.1 1910.0,1347.4 1912.5,1347.6 1914.9,1347.9 1917.4,1348.2 1919.9,1348.5 1922.4,1348.7 1924.9,1349.0 1927.4,1349.2 1929.9,1349.4 1932.4,1349.6 1934.9,1349.9 1937.4,1350.1 1939.9,1350.2 1942.4,1350.4 1944.9,1350.6 1947.3,1350.7 1949.8,1350.9 1952.3,1351.0 1954.8,1351.1 1957.3,1351.3 1959.8,1351.4 1962.3,1351.5 1964.8,1351.6 1967.3,1351.6 1969.9,1351.7 1972.4,1351.8 1974.9,1351.8 1977.4,1351.9 1979.9,1351.9 1982.4,1352.0 1984.9,1352.0 1987.4,1352.1 1989.9,1352.1 1992.4,1352.1 1994.9,1352.1 1997.4,1352.2 1999.9,1352.2 2002.4,1352.2 2004.9,1352.2 2007.4,1352.3 2009.9,1352.3 2012.4,1352.3 2014.9,1352.3 2017.4,1352.4 2019.9,1352.4 2022.4,1352.4 2024.9,1352.4 2027.4,1352.4 2029.9,1352.5 2032.4,1352.5 2034.9,1352.5 2037.4,1352.5 2039.9,1352.6 2042.4,1352.6 2044.9,1352.6 2047.4,1352.6 2049.9,1352.7 2052.4,1352.7 2054.9,1352.7 2057.4,1352.7 2059.9,1352.8 2062.4,1352.8 2064.9,1352.8 2067.4,1352.8 2069.9,1352.8 2072.4,1352.9 2074.9,1352.9 2077.5,1352.9 2080.0,1352.9 2082.5,1352.9 2085.0,1353.0 2087.5,1353.0 2090.0,1353.0 2092.5,1353.0 2095.0,1353.0 2097.5,1353.0 2100.0,1353.0 2102.5,1353.1 2105.0,1353.1 2107.5,1353.1 2110.0,1353.1 2112.5,1353.1 2115.0,1353.1 2117.5,1353.1 2120.0,1353.1 2122.5,1353.1 2125.0,1353.1 2127.5,1353.2 2130.0,1353.2 2132.5,1353.2 2135.0,1353.2 2137.5,1353.2 2140.0,1353.2"/></defs><g clip-path="url(#pc)" fill="none" stroke-linejoin="round" stroke-linecap="round"><use href="#c_gray" stroke="#4b4b4b" stroke-width="12.5" stroke-opacity="0.25"/><use href="#c_gray" stroke="#4b4b4b" stroke-width="8.6"/><use href="#c_red" stroke="#ff3535" stroke-width="12.5" stroke-opacity="0.25"/><use href="#c_red" stroke="#ff3535" stroke-width="8.6"/><use href="#c_blue" stroke="#0067e3" stroke-width="12.5" stroke-opacity="0.25"/><use href="#c_blue" stroke="#0067e3" stroke-width="8.6"/><use href="#c_green" stroke="#00aa64" stroke-width="12.5" stroke-opacity="0.25"/><use href="#c_green" stroke="#00aa64" stroke-width="8.6"/></g><rect x="285" y="50.4" width="1848" height="1.8" fill="#b4b4b4"/><rect x="285" y="1357.2" width="1848" height="2.8" fill="#8c8c8c"/><rect x="2123.3" y="50.4" width="2.7" height="1309.6" fill="#a0a0a0"/><rect x="285" y="52.2" width="1848" height="5.8" fill="#000"/><rect x="285" y="1360" width="1848" height="5" fill="#000"/><rect x="285" y="50.4" width="8" height="1314.6" fill="#000"/><rect x="2126" y="50.4" width="6.5" height="1314.6" fill="#000"/><rect x="260.8" y="181.8" width="25" height="6.8" fill="#000"/><rect x="260.8" y="472.5" width="25" height="6.8" fill="#000"/><rect x="260.8" y="763.1" width="25" height="6.8" fill="#000"/><rect x="260.8" y="1053.8" width="25" height="6.8" fill="#000"/><rect x="260.8" y="1344.5" width="25" height="6.8" fill="#000"/><rect x="595.3" y="1364" width="6.6" height="23" fill="#000"/><rect x="982.6" y="1364" width="6.6" height="23" fill="#000"/><rect x="1369.9" y="1364" width="6.6" height="23" fill="#000"/><rect x="1757.2" y="1364" width="6.6" height="23" fill="#000"/><rect x="1237.1" y="63.4" width="878" height="2.2" fill="#a2a2a2"/><rect x="1237.1" y="65.6" width="878" height="3.2" fill="#c6c6c6"/><rect x="2112.8" y="63.4" width="2.3" height="302.3" fill="#8a8a8a"/><rect x="2115.1" y="63.4" width="2.5" height="302.3" fill="#c8c8c8"/><rect x="1237.1" y="363.3" width="878" height="2.4" fill="#707070"/><rect x="1237.1" y="63.4" width="2.8" height="302.3" fill="#6a6a6a"/><line x1="1245" y1="106.8" x2="1369.5" y2="106.8" stroke="#4b4b4b" stroke-width="12.5" stroke-opacity="0.25" stroke-linecap="round"/><line x1="1245" y1="106.8" x2="1369.5" y2="106.8" stroke="#4b4b4b" stroke-width="8.6" stroke-linecap="round"/><line x1="1245" y1="180.4" x2="1369.5" y2="180.4" stroke="#ff3535" stroke-width="12.5" stroke-opacity="0.25" stroke-linecap="round"/><line x1="1245" y1="180.4" x2="1369.5" y2="180.4" stroke="#ff3535" stroke-width="8.6" stroke-linecap="round"/><line x1="1245" y1="253.0" x2="1369.5" y2="253.0" stroke="#0067e3" stroke-width="12.5" stroke-opacity="0.25" stroke-linecap="round"/><line x1="1245" y1="253.0" x2="1369.5" y2="253.0" stroke="#0067e3" stroke-width="8.6" stroke-linecap="round"/><line x1="1245" y1="325.3" x2="1369.5" y2="325.3" stroke="#00aa64" stroke-width="12.5" stroke-opacity="0.25" stroke-linecap="round"/><line x1="1245" y1="325.3" x2="1369.5" y2="325.3" stroke="#00aa64" stroke-width="8.6" stroke-linecap="round"/><text transform="matrix(0.8347,0,0,0.7448,135.16,206.71)" font-family="Liberation Serif, serif" font-weight="bold" font-size="100" fill="#000">0.8</text><text transform="matrix(0.8347,0,0,0.7388,135.16,497.52)" font-family="Liberation Serif, serif" font-weight="bold" font-size="100" fill="#000">0.6</text><text transform="matrix(0.8277,0,0,0.7269,135.19,786.75)" font-family="Liberation Serif, serif" font-weight="bold" font-size="100" fill="#000">0.4</text><text transform="matrix(0.8419,0,0,0.7343,135.13,1077.93)" font-family="Liberation Serif, serif" font-weight="bold" font-size="100" fill="#000">0.2</text><text transform="matrix(0.8419,0,0,0.7284,135.13,1368.24)" font-family="Liberation Serif, serif" font-weight="bold" font-size="100" fill="#000">0.0</text><text transform="matrix(0.8400,0,0,0.7388,536.46,1462.22)" font-family="Liberation Serif, serif" font-weight="bold" font-size="100" fill="#000">400</text><text transform="matrix(0.8401,0,0,0.7418,923.04,1462.42)" font-family="Liberation Serif, serif" font-weight="bold" font-size="100" fill="#000">500</text><text transform="matrix(0.8329,0,0,0.7507,1311.00,1463.10)" font-family="Liberation Serif, serif" font-weight="bold" font-size="100" fill="#000">600</text><text transform="matrix(0.8507,0,0,0.7493,1696.30,1462.90)" font-family="Liberation Serif, serif" font-weight="bold" font-size="100" fill="#000">700</text><text transform="matrix(0.7751,0,0,0.6791,923.62,1579.04)" font-family="Liberation Serif, serif" font-weight="bold" font-size="100" fill="#000">Wavelength (nm)</text><text transform="matrix(0.6500,0,0,0.5969,1400.70,126.30)" font-family="Liberation Serif, serif" font-weight="bold" font-size="100" fill="#000">RhB</text><text transform="matrix(0.6603,0,0,0.5969,1386.08,198.80)" font-family="Liberation Serif, serif" font-weight="bold" font-size="100" fill="#000">RhB+Fe(III)TCPP</text><text transform="matrix(0.6642,0,0,0.5969,1385.87,272.00)" font-family="Liberation Serif, serif" font-weight="bold" font-size="100" fill="#000">RhB+PhIO</text><text transform="matrix(0.6621,0,0,0.5923,1385.88,344.50)" font-family="Liberation Serif, serif" font-weight="bold" font-size="100" fill="#000">RhB+Fe(III)TCPP+PhIO</text><text transform="matrix(0,-0.6823,0.7909,0,83.30,882.28)" font-family="Liberation Serif, serif" font-weight="bold" font-size="100" fill="#000">Absorbance</text></svg>
</body></html>
